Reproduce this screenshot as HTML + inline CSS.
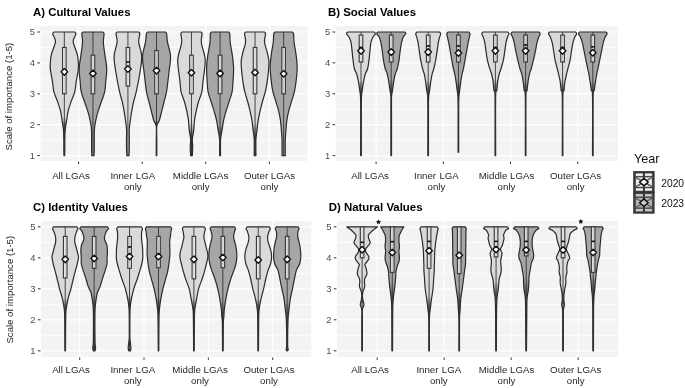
<!DOCTYPE html>
<html><head><meta charset="utf-8"><title>Violin plots</title>
<style>html,body{margin:0;padding:0;background:#fff;width:685px;height:388px;overflow:hidden;font-family:"Liberation Sans", sans-serif;}</style>
</head><body>
<svg width="685" height="388" viewBox="0 0 685 388" style="display:block;filter:blur(0.3px)">
<style>text{font-family:"Liberation Sans",sans-serif;}</style>
<rect width="685" height="388" fill="#ffffff"/>
<rect x="40.5" y="26.0" width="267.00" height="135.00" fill="#f3f3f3"/>
<line x1="40.5" x2="307.5" y1="140.15" y2="140.15" stroke="#ffffff" stroke-width="0.8"/>
<line x1="40.5" x2="307.5" y1="109.25" y2="109.25" stroke="#ffffff" stroke-width="0.8"/>
<line x1="40.5" x2="307.5" y1="78.35" y2="78.35" stroke="#ffffff" stroke-width="0.8"/>
<line x1="40.5" x2="307.5" y1="47.45" y2="47.45" stroke="#ffffff" stroke-width="0.8"/>
<line x1="40.5" x2="307.5" y1="155.60" y2="155.60" stroke="#ffffff" stroke-width="1.2"/>
<line x1="40.5" x2="307.5" y1="124.70" y2="124.70" stroke="#ffffff" stroke-width="1.2"/>
<line x1="40.5" x2="307.5" y1="93.80" y2="93.80" stroke="#ffffff" stroke-width="1.2"/>
<line x1="40.5" x2="307.5" y1="62.90" y2="62.90" stroke="#ffffff" stroke-width="1.2"/>
<line x1="40.5" x2="307.5" y1="32.00" y2="32.00" stroke="#ffffff" stroke-width="1.2"/>
<line x1="78.64" x2="78.64" y1="26.0" y2="161.0" stroke="#ffffff" stroke-width="1.1"/>
<line x1="142.21" x2="142.21" y1="26.0" y2="161.0" stroke="#ffffff" stroke-width="1.1"/>
<line x1="205.79" x2="205.79" y1="26.0" y2="161.0" stroke="#ffffff" stroke-width="1.1"/>
<line x1="269.36" x2="269.36" y1="26.0" y2="161.0" stroke="#ffffff" stroke-width="1.1"/>
<line x1="37.30" x2="39.90" y1="155.60" y2="155.60" stroke="#333" stroke-width="1"/>
<text x="34.90" y="159.00" text-anchor="end" font-size="9.4" fill="#4d4d4d">1</text>
<line x1="37.30" x2="39.90" y1="124.70" y2="124.70" stroke="#333" stroke-width="1"/>
<text x="34.90" y="128.10" text-anchor="end" font-size="9.4" fill="#4d4d4d">2</text>
<line x1="37.30" x2="39.90" y1="93.80" y2="93.80" stroke="#333" stroke-width="1"/>
<text x="34.90" y="97.20" text-anchor="end" font-size="9.4" fill="#4d4d4d">3</text>
<line x1="37.30" x2="39.90" y1="62.90" y2="62.90" stroke="#333" stroke-width="1"/>
<text x="34.90" y="66.30" text-anchor="end" font-size="9.4" fill="#4d4d4d">4</text>
<line x1="37.30" x2="39.90" y1="32.00" y2="32.00" stroke="#333" stroke-width="1"/>
<text x="34.90" y="35.40" text-anchor="end" font-size="9.4" fill="#4d4d4d">5</text>
<line x1="78.64" x2="78.64" y1="161.60" y2="164.00" stroke="#333" stroke-width="1"/>
<text x="71.00" y="178.80" text-anchor="middle" font-size="9.7" fill="#262626">All LGAs</text>
<line x1="142.21" x2="142.21" y1="161.60" y2="164.00" stroke="#333" stroke-width="1"/>
<text x="110.40" y="178.80" font-size="9.7" fill="#262626">Inner</text>
<text x="155.20" y="178.80" text-anchor="end" font-size="9.7" fill="#262626">LGA</text>
<text x="132.80" y="190.00" text-anchor="middle" font-size="9.7" fill="#262626">only</text>
<line x1="205.79" x2="205.79" y1="161.60" y2="164.00" stroke="#333" stroke-width="1"/>
<text x="200.60" y="178.80" text-anchor="middle" font-size="9.7" fill="#262626">Middle LGAs</text>
<text x="200.60" y="190.00" text-anchor="middle" font-size="9.7" fill="#262626">only</text>
<line x1="269.36" x2="269.36" y1="161.60" y2="164.00" stroke="#333" stroke-width="1"/>
<text x="269.50" y="178.80" text-anchor="middle" font-size="9.7" fill="#262626">Outer LGAs</text>
<text x="269.50" y="190.00" text-anchor="middle" font-size="9.7" fill="#262626">only</text>
<text x="33" y="16.3" font-size="11.4" font-weight="bold" fill="#000">A) Cultural Values</text>
<defs><linearGradient id="gA0" gradientUnits="userSpaceOnUse" x1="0" x2="0" y1="117.28" y2="155.60"><stop offset="0.0000" stop-color="#dadada"/><stop offset="0.2994" stop-color="#4a4a4a"/></linearGradient></defs>
<path d="M53.84,32.00 L74.84,32.00 C75.02,32.30 75.97,32.98 75.94,33.80 C75.91,34.62 75.09,35.54 74.64,36.94 C74.19,38.34 72.79,39.26 73.24,42.20 C73.69,45.13 76.49,51.11 77.34,54.56 C78.19,58.01 78.17,60.48 78.34,62.90 C78.51,65.32 78.69,65.99 78.34,69.08 C77.99,72.17 76.84,77.63 76.24,81.44 C75.64,85.25 75.59,88.60 74.74,91.95 C73.89,95.29 72.24,98.33 71.14,101.52 C70.04,104.72 68.89,107.96 68.14,111.10 C67.39,114.25 67.13,117.23 66.64,120.37 C66.15,123.52 65.50,126.66 65.20,129.95 C64.89,133.25 64.88,136.91 64.81,140.15 C64.75,143.39 64.84,146.84 64.81,149.42 C64.78,152.00 64.65,154.57 64.62,155.60 L64.06,155.60 C64.03,154.57 63.90,152.00 63.87,149.42 C63.84,146.84 63.93,143.39 63.87,140.15 C63.80,136.91 63.79,133.25 63.48,129.95 C63.18,126.66 62.53,123.52 62.04,120.37 C61.55,117.23 61.29,114.25 60.54,111.10 C59.79,107.96 58.64,104.72 57.54,101.52 C56.44,98.33 54.79,95.29 53.94,91.95 C53.09,88.60 53.04,85.25 52.44,81.44 C51.84,77.63 50.69,72.17 50.34,69.08 C49.99,65.99 50.17,65.32 50.34,62.90 C50.51,60.48 50.49,58.01 51.34,54.56 C52.19,51.11 54.99,45.13 55.44,42.20 C55.89,39.26 54.49,38.34 54.04,36.94 C53.59,35.54 52.77,34.62 52.74,33.80 C52.71,32.98 53.66,32.30 53.84,32.00 Z" fill="url(#gA0)" stroke="#2b2b2b" stroke-width="1.2" stroke-linejoin="round"/>
<line x1="64.34" x2="64.34" y1="32.00" y2="155.60" stroke="#333" stroke-width="0.9"/>
<rect x="62.54" y="47.45" width="3.6" height="46.35" fill="#ffffff" fill-opacity="0.7" stroke="#3a3a3a" stroke-width="1.15"/>
<path d="M61.04,71.86 L64.34,68.56 L67.64,71.86 L64.34,75.16 Z" fill="#ffffff" stroke="#111" stroke-width="1.4" stroke-linejoin="round"/>
<path d="M82.95,32.00 L102.95,32.00 C103.13,32.30 103.98,32.10 104.05,33.80 C104.11,35.50 103.21,38.74 103.35,42.20 C103.48,45.66 104.28,50.13 104.85,54.56 C105.41,58.99 106.60,64.29 106.75,68.77 C106.90,73.25 106.10,77.58 105.75,81.44 C105.40,85.30 105.36,88.60 104.65,91.95 C103.93,95.29 102.53,98.33 101.45,101.52 C100.36,104.72 99.10,107.96 98.15,111.10 C97.20,114.25 96.37,117.23 95.75,120.37 C95.12,123.52 94.62,126.66 94.38,129.95 C94.13,133.25 94.30,136.91 94.28,140.15 C94.27,143.39 94.33,146.84 94.28,149.42 C94.23,152.00 94.04,154.57 93.99,155.60 L91.90,155.60 C91.85,154.57 91.66,152.00 91.61,149.42 C91.56,146.84 91.63,143.39 91.61,140.15 C91.59,136.91 91.76,133.25 91.51,129.95 C91.27,126.66 90.77,123.52 90.15,120.37 C89.52,117.23 88.70,114.25 87.75,111.10 C86.80,107.96 85.53,104.72 84.45,101.52 C83.36,98.33 81.96,95.29 81.25,91.95 C80.53,88.60 80.50,85.30 80.15,81.44 C79.80,77.58 79.00,73.25 79.15,68.77 C79.30,64.29 80.48,58.99 81.05,54.56 C81.61,50.13 82.41,45.66 82.55,42.20 C82.68,38.74 81.78,35.50 81.85,33.80 C81.91,32.10 82.76,32.30 82.95,32.00 Z" fill="#a6a6a6" stroke="#2b2b2b" stroke-width="1.2" stroke-linejoin="round"/>
<line x1="92.95" x2="92.95" y1="32.00" y2="155.60" stroke="#333" stroke-width="0.9"/>
<rect x="91.15" y="55.17" width="3.6" height="38.62" fill="#ffffff" fill-opacity="0.7" stroke="#3a3a3a" stroke-width="1.15"/>
<path d="M89.65,73.41 L92.95,70.11 L96.25,73.41 L92.95,76.71 Z" fill="#ffffff" stroke="#111" stroke-width="1.4" stroke-linejoin="round"/>
<path d="M117.11,32.00 L138.71,32.00 C138.89,32.30 139.81,32.10 139.81,33.80 C139.81,35.50 138.39,38.43 138.71,42.20 C139.03,45.97 141.51,51.36 141.71,56.41 C141.91,61.46 140.83,66.56 139.91,72.48 C138.99,78.40 137.26,87.11 136.21,91.95 C135.16,96.79 134.36,98.33 133.61,101.52 C132.86,104.72 132.26,107.96 131.71,111.10 C131.16,114.25 130.72,117.23 130.31,120.37 C129.90,123.52 129.41,126.66 129.25,129.95 C129.09,133.25 129.34,136.91 129.34,140.15 C129.34,143.39 129.31,146.84 129.25,149.42 C129.18,152.00 129.01,154.57 128.96,155.60 L126.86,155.60 C126.81,154.57 126.64,152.00 126.57,149.42 C126.51,146.84 126.48,143.39 126.48,140.15 C126.48,136.91 126.74,133.25 126.57,129.95 C126.41,126.66 125.92,123.52 125.51,120.37 C125.10,117.23 124.66,114.25 124.11,111.10 C123.56,107.96 122.96,104.72 122.21,101.52 C121.46,98.33 120.66,96.79 119.61,91.95 C118.56,87.11 116.83,78.40 115.91,72.48 C114.99,66.56 113.91,61.46 114.11,56.41 C114.31,51.36 116.79,45.97 117.11,42.20 C117.43,38.43 116.01,35.50 116.01,33.80 C116.01,32.10 116.93,32.30 117.11,32.00 Z" fill="#dadada" stroke="#2b2b2b" stroke-width="1.2" stroke-linejoin="round"/>
<line x1="127.91" x2="127.91" y1="32.00" y2="155.60" stroke="#333" stroke-width="0.9"/>
<rect x="126.11" y="47.45" width="3.6" height="38.62" fill="#ffffff" fill-opacity="0.7" stroke="#3a3a3a" stroke-width="1.15"/>
<line x1="126.11" x2="129.71" y1="61.97" y2="61.97" stroke="#111" stroke-width="1.6"/>
<path d="M124.61,69.08 L127.91,65.78 L131.21,69.08 L127.91,72.38 Z" fill="#ffffff" stroke="#111" stroke-width="1.4" stroke-linejoin="round"/>
<defs><linearGradient id="gA3" gradientUnits="userSpaceOnUse" x1="0" x2="0" y1="120.37" y2="155.60"><stop offset="0.0000" stop-color="#a6a6a6"/><stop offset="0.1111" stop-color="#4a4a4a"/></linearGradient></defs>
<path d="M147.52,32.00 L165.52,32.00 C165.70,32.30 166.28,32.10 166.62,33.80 C166.95,35.50 166.87,38.43 167.52,42.20 C168.17,45.97 170.28,51.36 170.52,56.41 C170.75,61.46 169.58,66.56 168.92,72.48 C168.25,78.40 167.32,87.11 166.52,91.95 C165.72,96.79 164.92,98.33 164.12,101.52 C163.32,104.72 162.52,107.96 161.72,111.10 C160.92,114.25 160.14,117.85 159.32,120.37 C158.50,122.90 157.22,122.95 156.80,126.24 C156.38,129.54 156.80,135.26 156.80,140.15 C156.80,145.04 156.80,153.02 156.80,155.60 L156.24,155.60 C156.24,153.02 156.24,145.04 156.24,140.15 C156.24,135.26 156.66,129.54 156.24,126.24 C155.82,122.95 154.54,122.90 153.72,120.37 C152.90,117.85 152.12,114.25 151.32,111.10 C150.52,107.96 149.72,104.72 148.92,101.52 C148.12,98.33 147.32,96.79 146.52,91.95 C145.72,87.11 144.78,78.40 144.12,72.48 C143.45,66.56 142.28,61.46 142.52,56.41 C142.75,51.36 144.87,45.97 145.52,42.20 C146.17,38.43 146.08,35.50 146.42,33.80 C146.75,32.10 147.33,32.30 147.52,32.00 Z" fill="url(#gA3)" stroke="#2b2b2b" stroke-width="1.2" stroke-linejoin="round"/>
<line x1="156.52" x2="156.52" y1="32.00" y2="155.60" stroke="#333" stroke-width="0.9"/>
<rect x="154.72" y="50.54" width="3.6" height="43.26" fill="#ffffff" fill-opacity="0.7" stroke="#3a3a3a" stroke-width="1.15"/>
<path d="M153.22,70.62 L156.52,67.33 L159.82,70.62 L156.52,73.92 Z" fill="#ffffff" stroke="#111" stroke-width="1.4" stroke-linejoin="round"/>
<defs><linearGradient id="gA4" gradientUnits="userSpaceOnUse" x1="0" x2="0" y1="123.11" y2="155.60"><stop offset="0.0000" stop-color="#dadada"/><stop offset="0.4686" stop-color="#4a4a4a"/></linearGradient></defs>
<path d="M181.98,32.00 L200.98,32.00 C201.17,32.30 202.03,32.10 202.08,33.80 C202.13,35.50 200.83,38.43 201.28,42.20 C201.73,45.97 204.13,52.86 204.78,56.41 C205.43,59.96 205.48,59.35 205.18,63.52 C204.88,67.69 203.53,76.70 202.98,81.44 C202.43,86.18 202.62,88.60 201.88,91.95 C201.15,95.29 199.53,98.33 198.58,101.52 C197.63,104.72 196.87,107.96 196.18,111.10 C195.50,114.25 194.88,117.23 194.48,120.37 C194.08,123.52 194.14,126.76 193.78,129.95 C193.42,133.15 192.51,136.80 192.34,139.53 C192.16,142.26 192.72,143.65 192.72,146.33 C192.72,149.01 192.40,154.06 192.34,155.60 L190.63,155.60 C190.56,154.06 190.24,149.01 190.24,146.33 C190.24,143.65 190.80,142.26 190.63,139.53 C190.45,136.80 189.54,133.15 189.18,129.95 C188.82,126.76 188.88,123.52 188.48,120.37 C188.08,117.23 187.47,114.25 186.78,111.10 C186.10,107.96 185.33,104.72 184.38,101.52 C183.43,98.33 181.82,95.29 181.08,91.95 C180.35,88.60 180.53,86.18 179.98,81.44 C179.43,76.70 178.08,67.69 177.78,63.52 C177.48,59.35 177.53,59.96 178.18,56.41 C178.83,52.86 181.23,45.97 181.68,42.20 C182.13,38.43 180.83,35.50 180.88,33.80 C180.93,32.10 181.80,32.30 181.98,32.00 Z" fill="url(#gA4)" stroke="#2b2b2b" stroke-width="1.2" stroke-linejoin="round"/>
<line x1="191.48" x2="191.48" y1="32.00" y2="155.60" stroke="#333" stroke-width="0.9"/>
<rect x="189.68" y="55.17" width="3.6" height="38.62" fill="#ffffff" fill-opacity="0.7" stroke="#3a3a3a" stroke-width="1.15"/>
<path d="M188.18,72.79 L191.48,69.49 L194.78,72.79 L191.48,76.09 Z" fill="#ffffff" stroke="#111" stroke-width="1.4" stroke-linejoin="round"/>
<defs><linearGradient id="gA5" gradientUnits="userSpaceOnUse" x1="0" x2="0" y1="125.16" y2="155.60"><stop offset="0.0000" stop-color="#a6a6a6"/><stop offset="0.3541" stop-color="#4a4a4a"/></linearGradient></defs>
<path d="M211.49,32.00 L228.69,32.00 C228.87,32.30 229.54,32.10 229.79,33.80 C230.04,35.50 229.74,38.43 230.19,42.20 C230.64,45.97 231.92,51.98 232.49,56.41 C233.06,60.84 233.51,64.60 233.59,68.77 C233.67,72.94 233.24,77.58 232.99,81.44 C232.74,85.30 232.74,88.60 232.09,91.95 C231.44,95.29 230.09,98.33 229.09,101.52 C228.09,104.72 227.01,107.96 226.09,111.10 C225.17,114.25 224.25,117.23 223.59,120.37 C222.92,123.52 222.60,126.76 222.10,129.95 C221.59,133.15 220.82,135.26 220.56,139.53 C220.31,143.81 220.56,152.92 220.56,155.60 L219.62,155.60 C219.62,152.92 219.87,143.81 219.62,139.53 C219.36,135.26 218.59,133.15 218.08,129.95 C217.58,126.76 217.25,123.52 216.59,120.37 C215.92,117.23 215.01,114.25 214.09,111.10 C213.17,107.96 212.09,104.72 211.09,101.52 C210.09,98.33 208.74,95.29 208.09,91.95 C207.44,88.60 207.44,85.30 207.19,81.44 C206.94,77.58 206.51,72.94 206.59,68.77 C206.67,64.60 207.12,60.84 207.69,56.41 C208.26,51.98 209.54,45.97 209.99,42.20 C210.44,38.43 210.14,35.50 210.39,33.80 C210.64,32.10 211.31,32.30 211.49,32.00 Z" fill="url(#gA5)" stroke="#2b2b2b" stroke-width="1.2" stroke-linejoin="round"/>
<line x1="220.09" x2="220.09" y1="32.00" y2="155.60" stroke="#333" stroke-width="0.9"/>
<rect x="218.29" y="55.17" width="3.6" height="38.62" fill="#ffffff" fill-opacity="0.7" stroke="#3a3a3a" stroke-width="1.15"/>
<path d="M216.79,73.41 L220.09,70.11 L223.39,73.41 L220.09,76.71 Z" fill="#ffffff" stroke="#111" stroke-width="1.4" stroke-linejoin="round"/>
<defs><linearGradient id="gA6" gradientUnits="userSpaceOnUse" x1="0" x2="0" y1="123.25" y2="155.60"><stop offset="0.0000" stop-color="#dadada"/><stop offset="0.4540" stop-color="#4a4a4a"/></linearGradient></defs>
<path d="M245.65,32.00 L264.45,32.00 C264.64,32.30 265.54,32.10 265.55,33.80 C265.57,35.50 264.19,38.74 264.55,42.20 C264.92,45.66 267.02,51.00 267.75,54.56 C268.49,58.11 269.04,59.04 268.95,63.52 C268.87,68.00 267.87,76.70 267.25,81.44 C266.64,86.18 266.05,88.60 265.25,91.95 C264.45,95.29 263.32,98.33 262.45,101.52 C261.59,104.72 260.77,107.96 260.05,111.10 C259.34,114.25 258.65,117.23 258.15,120.37 C257.65,123.52 257.44,126.76 257.06,129.95 C256.69,133.15 256.10,135.26 255.91,139.53 C255.72,143.81 255.91,152.92 255.91,155.60 L254.20,155.60 C254.20,152.92 254.39,143.81 254.20,139.53 C254.01,135.26 253.42,133.15 253.05,129.95 C252.67,126.76 252.45,123.52 251.95,120.37 C251.45,117.23 250.77,114.25 250.05,111.10 C249.34,107.96 248.52,104.72 247.65,101.52 C246.79,98.33 245.65,95.29 244.85,91.95 C244.05,88.60 243.47,86.18 242.85,81.44 C242.24,76.70 241.24,68.00 241.15,63.52 C241.07,59.04 241.62,58.11 242.35,54.56 C243.09,51.00 245.19,45.66 245.55,42.20 C245.92,38.74 244.54,35.50 244.55,33.80 C244.57,32.10 245.47,32.30 245.65,32.00 Z" fill="url(#gA6)" stroke="#2b2b2b" stroke-width="1.2" stroke-linejoin="round"/>
<line x1="255.05" x2="255.05" y1="32.00" y2="155.60" stroke="#333" stroke-width="0.9"/>
<rect x="253.25" y="47.45" width="3.6" height="46.35" fill="#ffffff" fill-opacity="0.7" stroke="#3a3a3a" stroke-width="1.15"/>
<path d="M251.75,72.48 L255.05,69.18 L258.35,72.48 L255.05,75.78 Z" fill="#ffffff" stroke="#111" stroke-width="1.4" stroke-linejoin="round"/>
<path d="M274.86,32.00 L292.46,32.00 C292.64,32.30 293.29,32.10 293.56,33.80 C293.83,35.50 293.64,38.74 294.06,42.20 C294.48,45.66 295.54,50.33 296.06,54.56 C296.58,58.78 297.16,63.05 297.16,67.53 C297.16,72.02 296.53,77.37 296.06,81.44 C295.59,85.51 295.13,88.60 294.36,91.95 C293.59,95.29 292.41,98.33 291.46,101.52 C290.51,104.72 289.43,107.96 288.66,111.10 C287.89,114.25 287.31,117.23 286.86,120.37 C286.41,123.52 286.22,126.76 285.96,129.95 C285.70,133.15 285.40,135.26 285.28,139.53 C285.17,143.81 285.28,152.92 285.28,155.60 L282.04,155.60 C282.04,152.92 282.15,143.81 282.04,139.53 C281.92,135.26 281.62,133.15 281.36,129.95 C281.10,126.76 280.91,123.52 280.46,120.37 C280.01,117.23 279.43,114.25 278.66,111.10 C277.89,107.96 276.81,104.72 275.86,101.52 C274.91,98.33 273.73,95.29 272.96,91.95 C272.19,88.60 271.73,85.51 271.26,81.44 C270.79,77.37 270.16,72.02 270.16,67.53 C270.16,63.05 270.74,58.78 271.26,54.56 C271.78,50.33 272.84,45.66 273.26,42.20 C273.68,38.74 273.49,35.50 273.76,33.80 C274.03,32.10 274.68,32.30 274.86,32.00 Z" fill="#a6a6a6" stroke="#2b2b2b" stroke-width="1.2" stroke-linejoin="round"/>
<line x1="283.66" x2="283.66" y1="32.00" y2="155.60" stroke="#333" stroke-width="0.9"/>
<rect x="281.86" y="47.45" width="3.6" height="46.35" fill="#ffffff" fill-opacity="0.7" stroke="#3a3a3a" stroke-width="1.15"/>
<path d="M280.36,73.72 L283.66,70.42 L286.96,73.72 L283.66,77.02 Z" fill="#ffffff" stroke="#111" stroke-width="1.4" stroke-linejoin="round"/>
<rect x="335.8" y="26.0" width="282.20" height="135.00" fill="#f3f3f3"/>
<line x1="335.8" x2="618.0" y1="140.15" y2="140.15" stroke="#ffffff" stroke-width="0.8"/>
<line x1="335.8" x2="618.0" y1="109.25" y2="109.25" stroke="#ffffff" stroke-width="0.8"/>
<line x1="335.8" x2="618.0" y1="78.35" y2="78.35" stroke="#ffffff" stroke-width="0.8"/>
<line x1="335.8" x2="618.0" y1="47.45" y2="47.45" stroke="#ffffff" stroke-width="0.8"/>
<line x1="335.8" x2="618.0" y1="155.60" y2="155.60" stroke="#ffffff" stroke-width="1.2"/>
<line x1="335.8" x2="618.0" y1="124.70" y2="124.70" stroke="#ffffff" stroke-width="1.2"/>
<line x1="335.8" x2="618.0" y1="93.80" y2="93.80" stroke="#ffffff" stroke-width="1.2"/>
<line x1="335.8" x2="618.0" y1="62.90" y2="62.90" stroke="#ffffff" stroke-width="1.2"/>
<line x1="335.8" x2="618.0" y1="32.00" y2="32.00" stroke="#ffffff" stroke-width="1.2"/>
<line x1="376.11" x2="376.11" y1="26.0" y2="161.0" stroke="#ffffff" stroke-width="1.1"/>
<line x1="443.30" x2="443.30" y1="26.0" y2="161.0" stroke="#ffffff" stroke-width="1.1"/>
<line x1="510.50" x2="510.50" y1="26.0" y2="161.0" stroke="#ffffff" stroke-width="1.1"/>
<line x1="577.69" x2="577.69" y1="26.0" y2="161.0" stroke="#ffffff" stroke-width="1.1"/>
<line x1="332.60" x2="335.20" y1="155.60" y2="155.60" stroke="#333" stroke-width="1"/>
<text x="330.20" y="159.00" text-anchor="end" font-size="9.4" fill="#4d4d4d">1</text>
<line x1="332.60" x2="335.20" y1="124.70" y2="124.70" stroke="#333" stroke-width="1"/>
<text x="330.20" y="128.10" text-anchor="end" font-size="9.4" fill="#4d4d4d">2</text>
<line x1="332.60" x2="335.20" y1="93.80" y2="93.80" stroke="#333" stroke-width="1"/>
<text x="330.20" y="97.20" text-anchor="end" font-size="9.4" fill="#4d4d4d">3</text>
<line x1="332.60" x2="335.20" y1="62.90" y2="62.90" stroke="#333" stroke-width="1"/>
<text x="330.20" y="66.30" text-anchor="end" font-size="9.4" fill="#4d4d4d">4</text>
<line x1="332.60" x2="335.20" y1="32.00" y2="32.00" stroke="#333" stroke-width="1"/>
<text x="330.20" y="35.40" text-anchor="end" font-size="9.4" fill="#4d4d4d">5</text>
<line x1="376.11" x2="376.11" y1="161.60" y2="164.00" stroke="#333" stroke-width="1"/>
<text x="370.10" y="178.80" text-anchor="middle" font-size="9.7" fill="#262626">All LGAs</text>
<line x1="443.30" x2="443.30" y1="161.60" y2="164.00" stroke="#333" stroke-width="1"/>
<text x="414.00" y="178.80" font-size="9.7" fill="#262626">Inner</text>
<text x="458.80" y="178.80" text-anchor="end" font-size="9.7" fill="#262626">LGA</text>
<text x="436.40" y="190.00" text-anchor="middle" font-size="9.7" fill="#262626">only</text>
<line x1="510.50" x2="510.50" y1="161.60" y2="164.00" stroke="#333" stroke-width="1"/>
<text x="506.50" y="178.80" text-anchor="middle" font-size="9.7" fill="#262626">Middle LGAs</text>
<text x="506.50" y="190.00" text-anchor="middle" font-size="9.7" fill="#262626">only</text>
<line x1="577.69" x2="577.69" y1="161.60" y2="164.00" stroke="#333" stroke-width="1"/>
<text x="575.60" y="178.80" text-anchor="middle" font-size="9.7" fill="#262626">Outer LGAs</text>
<text x="575.60" y="190.00" text-anchor="middle" font-size="9.7" fill="#262626">only</text>
<text x="328" y="16.3" font-size="11.4" font-weight="bold" fill="#000">B) Social Values</text>
<defs><linearGradient id="gB0" gradientUnits="userSpaceOnUse" x1="0" x2="0" y1="80.57" y2="155.60"><stop offset="0.0000" stop-color="#dadada"/><stop offset="0.1527" stop-color="#4a4a4a"/></linearGradient></defs>
<path d="M347.70,32.00 L374.30,32.00 C374.48,32.30 375.61,32.98 375.40,33.80 C375.18,34.62 373.73,35.54 373.00,36.94 C372.26,38.34 371.51,39.83 371.00,42.20 C370.48,44.57 370.23,48.17 369.90,51.16 C369.56,54.15 369.38,57.18 369.00,60.12 C368.61,63.05 368.21,66.45 367.60,68.77 C366.98,71.09 365.96,71.91 365.30,74.02 C364.63,76.14 364.11,78.71 363.60,81.44 C363.09,84.17 362.59,87.83 362.24,90.40 C361.88,92.98 361.63,93.75 361.47,96.89 C361.31,100.03 361.31,99.47 361.28,109.25 C361.24,119.03 361.28,147.88 361.28,155.60 L360.72,155.60 C360.72,147.88 360.75,119.03 360.72,109.25 C360.68,99.47 360.68,100.03 360.52,96.89 C360.36,93.75 360.11,92.98 359.76,90.40 C359.40,87.83 358.91,84.17 358.40,81.44 C357.89,78.71 357.36,76.14 356.70,74.02 C356.03,71.91 355.01,71.09 354.40,68.77 C353.78,66.45 353.38,63.05 353.00,60.12 C352.61,57.18 352.43,54.15 352.10,51.16 C351.76,48.17 351.51,44.57 351.00,42.20 C350.48,39.83 349.73,38.34 349.00,36.94 C348.26,35.54 346.81,34.62 346.60,33.80 C346.38,32.98 347.51,32.30 347.70,32.00 Z" fill="url(#gB0)" stroke="#2b2b2b" stroke-width="1.2" stroke-linejoin="round"/>
<line x1="361.00" x2="361.00" y1="32.00" y2="155.60" stroke="#333" stroke-width="0.9"/>
<rect x="359.20" y="35.09" width="3.6" height="26.88" fill="#ffffff" fill-opacity="0.7" stroke="#3a3a3a" stroke-width="1.15"/>
<line x1="359.20" x2="362.80" y1="47.45" y2="47.45" stroke="#111" stroke-width="1.6"/>
<path d="M357.70,50.85 L361.00,47.55 L364.30,50.85 L361.00,54.15 Z" fill="#ffffff" stroke="#111" stroke-width="1.4" stroke-linejoin="round"/>
<defs><linearGradient id="gB1" gradientUnits="userSpaceOnUse" x1="0" x2="0" y1="79.96" y2="155.60"><stop offset="0.0000" stop-color="#a6a6a6"/><stop offset="0.1552" stop-color="#4a4a4a"/></linearGradient></defs>
<path d="M377.83,32.00 L404.63,32.00 C404.82,32.30 405.97,32.98 405.73,33.80 C405.50,34.62 403.92,35.54 403.23,36.94 C402.55,38.34 402.15,39.83 401.63,42.20 C401.12,44.57 400.57,48.17 400.13,51.16 C399.70,54.15 399.52,57.18 399.03,60.12 C398.55,63.05 397.87,66.45 397.23,68.77 C396.60,71.09 395.82,71.91 395.23,74.02 C394.65,76.14 394.19,78.71 393.73,81.44 C393.27,84.17 392.84,87.83 392.47,90.40 C392.10,92.98 391.67,93.75 391.51,96.89 C391.35,100.03 391.51,99.47 391.51,109.25 C391.51,119.03 391.51,147.88 391.51,155.60 L390.95,155.60 C390.95,147.88 390.95,119.03 390.95,109.25 C390.95,99.47 391.11,100.03 390.95,96.89 C390.79,93.75 390.36,92.98 389.99,90.40 C389.62,87.83 389.19,84.17 388.73,81.44 C388.27,78.71 387.82,76.14 387.23,74.02 C386.65,71.91 385.87,71.09 385.23,68.77 C384.60,66.45 383.92,63.05 383.43,60.12 C382.95,57.18 382.77,54.15 382.33,51.16 C381.90,48.17 381.35,44.57 380.83,42.20 C380.32,39.83 379.92,38.34 379.23,36.94 C378.55,35.54 376.97,34.62 376.73,33.80 C376.50,32.98 377.65,32.30 377.83,32.00 Z" fill="url(#gB1)" stroke="#2b2b2b" stroke-width="1.2" stroke-linejoin="round"/>
<line x1="391.23" x2="391.23" y1="32.00" y2="155.60" stroke="#333" stroke-width="0.9"/>
<rect x="389.43" y="35.09" width="3.6" height="26.88" fill="#ffffff" fill-opacity="0.7" stroke="#3a3a3a" stroke-width="1.15"/>
<path d="M387.93,52.09 L391.23,48.79 L394.53,52.09 L391.23,55.39 Z" fill="#ffffff" stroke="#111" stroke-width="1.4" stroke-linejoin="round"/>
<defs><linearGradient id="gB2" gradientUnits="userSpaceOnUse" x1="0" x2="0" y1="80.30" y2="155.60"><stop offset="0.0000" stop-color="#dadada"/><stop offset="0.1686" stop-color="#4a4a4a"/></linearGradient></defs>
<path d="M416.79,32.00 L439.59,32.00 C439.77,32.30 440.67,32.98 440.69,33.80 C440.70,34.62 440.07,35.54 439.69,36.94 C439.30,38.34 438.82,39.83 438.39,42.20 C437.95,44.57 437.54,48.17 437.09,51.16 C436.64,54.15 436.24,57.18 435.69,60.12 C435.14,63.05 434.39,66.45 433.79,68.77 C433.19,71.09 432.59,71.91 432.09,74.02 C431.59,76.14 431.20,78.71 430.79,81.44 C430.38,84.17 429.97,87.83 429.62,90.40 C429.26,92.98 428.85,93.75 428.66,96.89 C428.47,100.03 428.50,99.47 428.47,109.25 C428.43,119.03 428.47,147.88 428.47,155.60 L427.91,155.60 C427.91,147.88 427.94,119.03 427.91,109.25 C427.87,99.47 427.91,100.03 427.71,96.89 C427.52,93.75 427.11,92.98 426.75,90.40 C426.40,87.83 426.00,84.17 425.59,81.44 C425.18,78.71 424.79,76.14 424.29,74.02 C423.79,71.91 423.19,71.09 422.59,68.77 C421.99,66.45 421.24,63.05 420.69,60.12 C420.14,57.18 419.74,54.15 419.29,51.16 C418.84,48.17 418.42,44.57 417.99,42.20 C417.55,39.83 417.07,38.34 416.69,36.94 C416.30,35.54 415.67,34.62 415.69,33.80 C415.70,32.98 416.60,32.30 416.79,32.00 Z" fill="url(#gB2)" stroke="#2b2b2b" stroke-width="1.2" stroke-linejoin="round"/>
<line x1="428.19" x2="428.19" y1="32.00" y2="155.60" stroke="#333" stroke-width="0.9"/>
<rect x="426.39" y="35.09" width="3.6" height="26.88" fill="#ffffff" fill-opacity="0.7" stroke="#3a3a3a" stroke-width="1.15"/>
<line x1="426.39" x2="429.99" y1="45.91" y2="45.91" stroke="#111" stroke-width="1.6"/>
<path d="M424.89,52.09 L428.19,48.79 L431.49,52.09 L428.19,55.39 Z" fill="#ffffff" stroke="#111" stroke-width="1.4" stroke-linejoin="round"/>
<defs><linearGradient id="gB3" gradientUnits="userSpaceOnUse" x1="0" x2="0" y1="78.97" y2="155.60"><stop offset="0.0000" stop-color="#a6a6a6"/><stop offset="0.1704" stop-color="#4a4a4a"/></linearGradient></defs>
<path d="M447.92,32.00 L468.92,32.00 C469.11,32.30 469.94,32.98 470.02,33.80 C470.11,34.62 469.72,35.54 469.42,36.94 C469.12,38.34 468.69,39.83 468.22,42.20 C467.76,44.57 467.16,48.17 466.62,51.16 C466.09,54.15 465.56,57.18 465.02,60.12 C464.49,63.05 463.92,66.45 463.42,68.77 C462.92,71.09 462.46,71.91 462.02,74.02 C461.59,76.14 461.22,78.71 460.82,81.44 C460.43,84.17 459.98,87.83 459.66,90.40 C459.34,92.98 459.05,93.75 458.89,96.89 C458.73,100.03 458.73,100.03 458.70,109.25 C458.67,118.47 458.70,145.04 458.70,152.20 L458.14,152.20 C458.14,145.04 458.17,118.47 458.14,109.25 C458.11,100.03 458.11,100.03 457.95,96.89 C457.79,93.75 457.50,92.98 457.18,90.40 C456.86,87.83 456.42,84.17 456.02,81.44 C455.63,78.71 455.26,76.14 454.82,74.02 C454.39,71.91 453.92,71.09 453.42,68.77 C452.92,66.45 452.36,63.05 451.82,60.12 C451.29,57.18 450.76,54.15 450.22,51.16 C449.69,48.17 449.09,44.57 448.62,42.20 C448.16,39.83 447.72,38.34 447.42,36.94 C447.12,35.54 446.74,34.62 446.82,33.80 C446.91,32.98 447.74,32.30 447.92,32.00 Z" fill="url(#gB3)" stroke="#2b2b2b" stroke-width="1.2" stroke-linejoin="round"/>
<line x1="458.42" x2="458.42" y1="32.00" y2="152.20" stroke="#333" stroke-width="0.9"/>
<rect x="456.62" y="35.09" width="3.6" height="26.88" fill="#ffffff" fill-opacity="0.7" stroke="#3a3a3a" stroke-width="1.15"/>
<line x1="456.62" x2="460.22" y1="45.91" y2="45.91" stroke="#111" stroke-width="1.6"/>
<path d="M455.12,53.01 L458.42,49.71 L461.72,53.01 L458.42,56.31 Z" fill="#ffffff" stroke="#111" stroke-width="1.4" stroke-linejoin="round"/>
<defs><linearGradient id="gB4" gradientUnits="userSpaceOnUse" x1="0" x2="0" y1="78.97" y2="155.60"><stop offset="0.0000" stop-color="#dadada"/><stop offset="0.1774" stop-color="#4a4a4a"/></linearGradient></defs>
<path d="M482.88,32.00 L507.88,32.00 C508.06,32.30 509.03,32.98 508.98,33.80 C508.93,34.62 508.06,35.54 507.58,36.94 C507.09,38.34 506.54,39.83 506.08,42.20 C505.61,44.57 505.23,48.17 504.78,51.16 C504.33,54.15 504.01,57.18 503.38,60.12 C502.74,63.05 501.68,66.45 500.98,68.77 C500.28,71.09 499.73,71.91 499.18,74.02 C498.63,76.14 498.07,78.71 497.68,81.44 C497.28,84.17 497.15,87.83 496.81,90.40 C496.47,92.98 495.85,86.02 495.66,96.89 C495.47,107.76 495.66,145.81 495.66,155.60 L495.10,155.60 C495.10,145.81 495.29,107.76 495.10,96.89 C494.91,86.02 494.28,92.98 493.95,90.40 C493.61,87.83 493.47,84.17 493.08,81.44 C492.68,78.71 492.13,76.14 491.58,74.02 C491.03,71.91 490.48,71.09 489.78,68.77 C489.08,66.45 488.01,63.05 487.38,60.12 C486.74,57.18 486.43,54.15 485.98,51.16 C485.53,48.17 485.14,44.57 484.68,42.20 C484.21,39.83 483.66,38.34 483.18,36.94 C482.69,35.54 481.83,34.62 481.78,33.80 C481.73,32.98 482.69,32.30 482.88,32.00 Z" fill="url(#gB4)" stroke="#2b2b2b" stroke-width="1.2" stroke-linejoin="round"/>
<line x1="495.38" x2="495.38" y1="32.00" y2="155.60" stroke="#333" stroke-width="0.9"/>
<rect x="493.58" y="35.09" width="3.6" height="26.88" fill="#ffffff" fill-opacity="0.7" stroke="#3a3a3a" stroke-width="1.15"/>
<line x1="493.58" x2="497.18" y1="47.45" y2="47.45" stroke="#111" stroke-width="1.6"/>
<path d="M492.08,50.85 L495.38,47.55 L498.68,50.85 L495.38,54.15 Z" fill="#ffffff" stroke="#111" stroke-width="1.4" stroke-linejoin="round"/>
<defs><linearGradient id="gB5" gradientUnits="userSpaceOnUse" x1="0" x2="0" y1="79.73" y2="155.60"><stop offset="0.0000" stop-color="#a6a6a6"/><stop offset="0.1692" stop-color="#4a4a4a"/></linearGradient></defs>
<path d="M512.11,32.00 L539.11,32.00 C539.30,32.30 540.28,32.98 540.21,33.80 C540.15,34.62 539.23,35.54 538.71,36.94 C538.20,38.34 537.66,39.83 537.11,42.20 C536.56,44.57 536.03,48.17 535.41,51.16 C534.80,54.15 534.11,57.18 533.41,60.12 C532.71,63.05 531.88,66.45 531.21,68.77 C530.55,71.09 529.93,71.91 529.41,74.02 C528.90,76.14 528.51,78.71 528.11,81.44 C527.72,84.17 527.42,87.83 527.05,90.40 C526.68,92.98 526.09,86.02 525.89,96.89 C525.70,107.76 525.89,145.81 525.89,155.60 L525.33,155.60 C525.33,145.81 525.53,107.76 525.33,96.89 C525.14,86.02 524.55,92.98 524.18,90.40 C523.81,87.83 523.51,84.17 523.11,81.44 C522.72,78.71 522.33,76.14 521.81,74.02 C521.30,71.91 520.68,71.09 520.01,68.77 C519.35,66.45 518.51,63.05 517.81,60.12 C517.11,57.18 516.43,54.15 515.81,51.16 C515.20,48.17 514.66,44.57 514.11,42.20 C513.56,39.83 513.03,38.34 512.51,36.94 C512.00,35.54 511.08,34.62 511.01,33.80 C510.95,32.98 511.93,32.30 512.11,32.00 Z" fill="url(#gB5)" stroke="#2b2b2b" stroke-width="1.2" stroke-linejoin="round"/>
<line x1="525.61" x2="525.61" y1="32.00" y2="155.60" stroke="#333" stroke-width="0.9"/>
<rect x="523.81" y="35.09" width="3.6" height="26.88" fill="#ffffff" fill-opacity="0.7" stroke="#3a3a3a" stroke-width="1.15"/>
<line x1="523.81" x2="527.41" y1="44.98" y2="44.98" stroke="#111" stroke-width="1.6"/>
<path d="M522.31,50.85 L525.61,47.55 L528.91,50.85 L525.61,54.15 Z" fill="#ffffff" stroke="#111" stroke-width="1.4" stroke-linejoin="round"/>
<defs><linearGradient id="gB6" gradientUnits="userSpaceOnUse" x1="0" x2="0" y1="79.59" y2="155.60"><stop offset="0.0000" stop-color="#dadada"/><stop offset="0.1707" stop-color="#4a4a4a"/></linearGradient></defs>
<path d="M549.57,32.00 L575.57,32.00 C575.75,32.30 576.80,32.98 576.67,33.80 C576.53,34.62 575.37,35.54 574.77,36.94 C574.17,38.34 573.62,39.83 573.07,42.20 C572.52,44.57 571.97,48.17 571.47,51.16 C570.97,54.15 570.67,57.18 570.07,60.12 C569.47,63.05 568.45,66.45 567.87,68.77 C567.28,71.09 567.05,71.91 566.57,74.02 C566.08,76.14 565.40,78.71 564.97,81.44 C564.54,84.17 564.35,87.83 564.00,90.40 C563.65,92.98 563.04,86.02 562.85,96.89 C562.66,107.76 562.85,145.81 562.85,155.60 L562.29,155.60 C562.29,145.81 562.48,107.76 562.29,96.89 C562.10,86.02 561.49,92.98 561.14,90.40 C560.78,87.83 560.60,84.17 560.17,81.44 C559.74,78.71 559.05,76.14 558.57,74.02 C558.08,71.91 557.85,71.09 557.27,68.77 C556.68,66.45 555.67,63.05 555.07,60.12 C554.47,57.18 554.17,54.15 553.67,51.16 C553.17,48.17 552.62,44.57 552.07,42.20 C551.52,39.83 550.97,38.34 550.37,36.94 C549.77,35.54 548.60,34.62 548.47,33.80 C548.33,32.98 549.38,32.30 549.57,32.00 Z" fill="url(#gB6)" stroke="#2b2b2b" stroke-width="1.2" stroke-linejoin="round"/>
<line x1="562.57" x2="562.57" y1="32.00" y2="155.60" stroke="#333" stroke-width="0.9"/>
<rect x="560.77" y="35.09" width="3.6" height="26.88" fill="#ffffff" fill-opacity="0.7" stroke="#3a3a3a" stroke-width="1.15"/>
<line x1="560.77" x2="564.37" y1="47.45" y2="47.45" stroke="#111" stroke-width="1.6"/>
<path d="M559.27,50.85 L562.57,47.55 L565.87,50.85 L562.57,54.15 Z" fill="#ffffff" stroke="#111" stroke-width="1.4" stroke-linejoin="round"/>
<defs><linearGradient id="gB7" gradientUnits="userSpaceOnUse" x1="0" x2="0" y1="80.82" y2="155.60"><stop offset="0.0000" stop-color="#a6a6a6"/><stop offset="0.1570" stop-color="#4a4a4a"/></linearGradient></defs>
<path d="M579.60,32.00 L606.00,32.00 C606.19,32.30 607.24,32.98 607.10,33.80 C606.97,34.62 605.82,35.54 605.20,36.94 C604.59,38.34 604.02,39.83 603.40,42.20 C602.79,44.57 602.12,48.17 601.50,51.16 C600.89,54.15 600.30,57.18 599.70,60.12 C599.10,63.05 598.40,66.45 597.90,68.77 C597.40,71.09 597.10,71.91 596.70,74.02 C596.30,76.14 595.91,78.71 595.50,81.44 C595.09,84.17 594.64,87.83 594.24,90.40 C593.83,92.98 593.28,86.02 593.08,96.89 C592.89,107.76 593.08,145.81 593.08,155.60 L592.52,155.60 C592.52,145.81 592.72,107.76 592.52,96.89 C592.33,86.02 591.77,92.98 591.37,90.40 C590.97,87.83 590.51,84.17 590.10,81.44 C589.69,78.71 589.30,76.14 588.90,74.02 C588.50,71.91 588.20,71.09 587.70,68.77 C587.20,66.45 586.50,63.05 585.90,60.12 C585.30,57.18 584.72,54.15 584.10,51.16 C583.49,48.17 582.82,44.57 582.20,42.20 C581.59,39.83 581.02,38.34 580.40,36.94 C579.79,35.54 578.64,34.62 578.50,33.80 C578.37,32.98 579.42,32.30 579.60,32.00 Z" fill="url(#gB7)" stroke="#2b2b2b" stroke-width="1.2" stroke-linejoin="round"/>
<line x1="592.80" x2="592.80" y1="32.00" y2="155.60" stroke="#333" stroke-width="0.9"/>
<rect x="591.00" y="35.09" width="3.6" height="26.88" fill="#ffffff" fill-opacity="0.7" stroke="#3a3a3a" stroke-width="1.15"/>
<line x1="591.00" x2="594.60" y1="46.83" y2="46.83" stroke="#111" stroke-width="1.6"/>
<path d="M589.50,52.70 L592.80,49.40 L596.10,52.70 L592.80,56.00 Z" fill="#ffffff" stroke="#111" stroke-width="1.4" stroke-linejoin="round"/>
<rect x="41.1" y="220.8" width="270.20" height="136.10" fill="#f3f3f3"/>
<line x1="41.1" x2="311.3" y1="335.30" y2="335.30" stroke="#ffffff" stroke-width="0.8"/>
<line x1="41.1" x2="311.3" y1="304.30" y2="304.30" stroke="#ffffff" stroke-width="0.8"/>
<line x1="41.1" x2="311.3" y1="273.30" y2="273.30" stroke="#ffffff" stroke-width="0.8"/>
<line x1="41.1" x2="311.3" y1="242.30" y2="242.30" stroke="#ffffff" stroke-width="0.8"/>
<line x1="41.1" x2="311.3" y1="350.80" y2="350.80" stroke="#ffffff" stroke-width="1.2"/>
<line x1="41.1" x2="311.3" y1="319.80" y2="319.80" stroke="#ffffff" stroke-width="1.2"/>
<line x1="41.1" x2="311.3" y1="288.80" y2="288.80" stroke="#ffffff" stroke-width="1.2"/>
<line x1="41.1" x2="311.3" y1="257.80" y2="257.80" stroke="#ffffff" stroke-width="1.2"/>
<line x1="41.1" x2="311.3" y1="226.80" y2="226.80" stroke="#ffffff" stroke-width="1.2"/>
<line x1="79.70" x2="79.70" y1="220.8" y2="356.9" stroke="#ffffff" stroke-width="1.1"/>
<line x1="144.03" x2="144.03" y1="220.8" y2="356.9" stroke="#ffffff" stroke-width="1.1"/>
<line x1="208.37" x2="208.37" y1="220.8" y2="356.9" stroke="#ffffff" stroke-width="1.1"/>
<line x1="272.70" x2="272.70" y1="220.8" y2="356.9" stroke="#ffffff" stroke-width="1.1"/>
<line x1="37.90" x2="40.50" y1="350.80" y2="350.80" stroke="#333" stroke-width="1"/>
<text x="35.50" y="354.20" text-anchor="end" font-size="9.4" fill="#4d4d4d">1</text>
<line x1="37.90" x2="40.50" y1="319.80" y2="319.80" stroke="#333" stroke-width="1"/>
<text x="35.50" y="323.20" text-anchor="end" font-size="9.4" fill="#4d4d4d">2</text>
<line x1="37.90" x2="40.50" y1="288.80" y2="288.80" stroke="#333" stroke-width="1"/>
<text x="35.50" y="292.20" text-anchor="end" font-size="9.4" fill="#4d4d4d">3</text>
<line x1="37.90" x2="40.50" y1="257.80" y2="257.80" stroke="#333" stroke-width="1"/>
<text x="35.50" y="261.20" text-anchor="end" font-size="9.4" fill="#4d4d4d">4</text>
<line x1="37.90" x2="40.50" y1="226.80" y2="226.80" stroke="#333" stroke-width="1"/>
<text x="35.50" y="230.20" text-anchor="end" font-size="9.4" fill="#4d4d4d">5</text>
<line x1="79.70" x2="79.70" y1="357.50" y2="359.90" stroke="#333" stroke-width="1"/>
<text x="71.00" y="373.20" text-anchor="middle" font-size="9.7" fill="#262626">All LGAs</text>
<line x1="144.03" x2="144.03" y1="357.50" y2="359.90" stroke="#333" stroke-width="1"/>
<text x="110.40" y="373.20" font-size="9.7" fill="#262626">Inner</text>
<text x="155.20" y="373.20" text-anchor="end" font-size="9.7" fill="#262626">LGA</text>
<text x="132.80" y="384.40" text-anchor="middle" font-size="9.7" fill="#262626">only</text>
<line x1="208.37" x2="208.37" y1="357.50" y2="359.90" stroke="#333" stroke-width="1"/>
<text x="200.00" y="373.20" text-anchor="middle" font-size="9.7" fill="#262626">Middle LGAs</text>
<text x="200.00" y="384.40" text-anchor="middle" font-size="9.7" fill="#262626">only</text>
<line x1="272.70" x2="272.70" y1="357.50" y2="359.90" stroke="#333" stroke-width="1"/>
<text x="269.00" y="373.20" text-anchor="middle" font-size="9.7" fill="#262626">Outer LGAs</text>
<text x="269.00" y="384.40" text-anchor="middle" font-size="9.7" fill="#262626">only</text>
<text x="33" y="211.0" font-size="11.4" font-weight="bold" fill="#000">C) Identity Values</text>
<defs><linearGradient id="gC0" gradientUnits="userSpaceOnUse" x1="0" x2="0" y1="298.69" y2="350.80"><stop offset="0.0000" stop-color="#dadada"/><stop offset="0.1974" stop-color="#4a4a4a"/></linearGradient></defs>
<path d="M53.62,226.80 L76.82,226.80 C77.01,227.10 77.97,227.77 77.92,228.60 C77.88,229.43 77.04,230.30 76.52,231.76 C76.01,233.22 75.09,235.53 74.82,237.34 C74.56,239.15 74.67,240.85 74.92,242.61 C75.17,244.37 75.87,246.12 76.32,247.88 C76.77,249.64 77.26,251.65 77.62,253.15 C77.99,254.65 78.59,255.06 78.52,256.87 C78.46,258.68 77.71,261.83 77.22,264.00 C76.74,266.17 76.26,267.51 75.62,269.89 C74.99,272.27 74.21,275.11 73.42,278.26 C72.64,281.41 71.84,285.34 70.92,288.80 C70.01,292.26 68.73,295.52 67.92,299.03 C67.12,302.54 66.45,306.42 66.08,309.88 C65.71,313.34 65.79,312.98 65.70,319.80 C65.60,326.62 65.54,345.63 65.50,350.80 L64.94,350.80 C64.91,345.63 64.85,326.62 64.75,319.80 C64.66,312.98 64.74,313.34 64.37,309.88 C64.00,306.42 63.33,302.54 62.52,299.03 C61.72,295.52 60.44,292.26 59.52,288.80 C58.61,285.34 57.81,281.41 57.02,278.26 C56.24,275.11 55.46,272.27 54.82,269.89 C54.19,267.51 53.71,266.17 53.22,264.00 C52.74,261.83 51.99,258.68 51.92,256.87 C51.86,255.06 52.46,254.65 52.82,253.15 C53.19,251.65 53.67,249.64 54.12,247.88 C54.57,246.12 55.27,244.37 55.52,242.61 C55.77,240.85 55.89,239.15 55.62,237.34 C55.36,235.53 54.44,233.22 53.92,231.76 C53.41,230.30 52.57,229.43 52.52,228.60 C52.47,227.77 53.44,227.10 53.62,226.80 Z" fill="url(#gC0)" stroke="#2b2b2b" stroke-width="1.2" stroke-linejoin="round"/>
<line x1="65.22" x2="65.22" y1="226.80" y2="350.80" stroke="#333" stroke-width="0.9"/>
<rect x="63.42" y="236.41" width="3.6" height="41.54" fill="#ffffff" fill-opacity="0.7" stroke="#3a3a3a" stroke-width="1.15"/>
<path d="M61.92,259.35 L65.22,256.05 L68.52,259.35 L65.22,262.65 Z" fill="#ffffff" stroke="#111" stroke-width="1.4" stroke-linejoin="round"/>
<defs><linearGradient id="gC1" gradientUnits="userSpaceOnUse" x1="0" x2="0" y1="294.89" y2="350.80"><stop offset="0.0000" stop-color="#a6a6a6"/><stop offset="0.2358" stop-color="#4a4a4a"/></linearGradient></defs>
<path d="M80.97,226.80 L107.37,226.80 C107.56,227.10 108.67,227.77 108.47,228.60 C108.27,229.43 106.84,230.30 106.17,231.76 C105.51,233.22 104.67,235.84 104.47,237.34 C104.27,238.84 104.61,239.56 104.97,240.75 C105.34,241.94 106.26,242.92 106.67,244.47 C107.09,246.02 107.41,247.73 107.47,250.05 C107.54,252.38 107.16,256.10 107.07,258.42 C106.99,260.75 107.26,262.09 106.97,264.00 C106.69,265.91 106.11,267.51 105.37,269.89 C104.64,272.27 103.37,275.73 102.57,278.26 C101.77,280.79 101.14,283.32 100.57,285.08 C100.01,286.84 99.71,287.56 99.17,288.80 C98.64,290.04 97.87,290.81 97.37,292.52 C96.88,294.22 96.57,296.14 96.18,299.03 C95.79,301.92 95.22,302.80 95.03,309.88 C94.84,316.96 94.93,335.20 95.03,341.50 C95.13,347.80 95.61,346.15 95.61,347.70 C95.61,349.25 95.13,350.28 95.03,350.80 L93.32,350.80 C93.22,350.28 92.74,349.25 92.74,347.70 C92.74,346.15 93.22,347.80 93.32,341.50 C93.41,335.20 93.51,316.96 93.32,309.88 C93.13,302.80 92.56,301.92 92.17,299.03 C91.78,296.14 91.47,294.22 90.97,292.52 C90.48,290.81 89.71,290.04 89.17,288.80 C88.64,287.56 88.34,286.84 87.77,285.08 C87.21,283.32 86.57,280.79 85.77,278.26 C84.97,275.73 83.71,272.27 82.97,269.89 C82.24,267.51 81.66,265.91 81.37,264.00 C81.09,262.09 81.36,260.75 81.27,258.42 C81.19,256.10 80.81,252.38 80.87,250.05 C80.94,247.73 81.26,246.02 81.67,244.47 C82.09,242.92 83.01,241.94 83.37,240.75 C83.74,239.56 84.07,238.84 83.87,237.34 C83.67,235.84 82.84,233.22 82.17,231.76 C81.51,230.30 80.07,229.43 79.87,228.60 C79.67,227.77 80.79,227.10 80.97,226.80 Z" fill="url(#gC1)" stroke="#2b2b2b" stroke-width="1.2" stroke-linejoin="round"/>
<line x1="94.17" x2="94.17" y1="226.80" y2="350.80" stroke="#333" stroke-width="0.9"/>
<rect x="92.37" y="236.41" width="3.6" height="31.93" fill="#ffffff" fill-opacity="0.7" stroke="#3a3a3a" stroke-width="1.15"/>
<path d="M90.87,258.42 L94.17,255.12 L97.47,258.42 L94.17,261.72 Z" fill="#ffffff" stroke="#111" stroke-width="1.4" stroke-linejoin="round"/>
<defs><linearGradient id="gC2" gradientUnits="userSpaceOnUse" x1="0" x2="0" y1="295.31" y2="350.80"><stop offset="0.0000" stop-color="#dadada"/><stop offset="0.1788" stop-color="#4a4a4a"/><stop offset="0.8603" stop-color="#4a4a4a"/><stop offset="0.8939" stop-color="#c4c4c4"/><stop offset="0.9497" stop-color="#c4c4c4"/><stop offset="0.9832" stop-color="#4a4a4a"/></linearGradient></defs>
<path d="M117.86,226.80 L141.26,226.80 C141.44,227.10 142.29,227.77 142.36,228.60 C142.42,229.43 141.81,230.30 141.66,231.76 C141.51,233.22 141.41,235.53 141.46,237.34 C141.51,239.15 141.77,240.85 141.96,242.61 C142.14,244.37 142.42,246.12 142.56,247.88 C142.69,249.64 142.72,251.39 142.76,253.15 C142.79,254.91 142.92,256.61 142.76,258.42 C142.59,260.23 142.21,262.09 141.76,264.00 C141.31,265.91 140.77,267.51 140.06,269.89 C139.34,272.27 138.51,275.11 137.46,278.26 C136.41,281.41 134.77,285.34 133.76,288.80 C132.74,292.26 132.00,295.52 131.37,299.03 C130.75,302.54 130.29,303.83 130.03,309.88 C129.77,315.93 129.84,330.29 129.84,335.30 C129.84,340.31 129.90,338.40 130.03,339.95 C130.16,341.50 130.46,343.15 130.61,344.60 C130.75,346.05 130.93,347.60 130.89,348.63 C130.86,349.66 130.49,350.44 130.41,350.80 L128.70,350.80 C128.62,350.44 128.25,349.66 128.22,348.63 C128.19,347.60 128.37,346.05 128.51,344.60 C128.65,343.15 128.96,341.50 129.09,339.95 C129.21,338.40 129.28,340.31 129.28,335.30 C129.28,330.29 129.34,315.93 129.09,309.88 C128.83,303.83 128.36,302.54 127.74,299.03 C127.12,295.52 126.37,292.26 125.36,288.80 C124.34,285.34 122.71,281.41 121.66,278.26 C120.61,275.11 119.77,272.27 119.06,269.89 C118.34,267.51 117.81,265.91 117.36,264.00 C116.91,262.09 116.52,260.23 116.36,258.42 C116.19,256.61 116.32,254.91 116.36,253.15 C116.39,251.39 116.42,249.64 116.56,247.88 C116.69,246.12 116.97,244.37 117.16,242.61 C117.34,240.85 117.61,239.15 117.66,237.34 C117.71,235.53 117.61,233.22 117.46,231.76 C117.31,230.30 116.69,229.43 116.76,228.60 C116.82,227.77 117.67,227.10 117.86,226.80 Z" fill="url(#gC2)" stroke="#2b2b2b" stroke-width="1.2" stroke-linejoin="round"/>
<line x1="129.56" x2="129.56" y1="226.80" y2="350.80" stroke="#333" stroke-width="0.9"/>
<rect x="127.76" y="236.41" width="3.6" height="31.93" fill="#ffffff" fill-opacity="0.7" stroke="#3a3a3a" stroke-width="1.15"/>
<line x1="127.76" x2="131.36" y1="246.95" y2="246.95" stroke="#111" stroke-width="1.6"/>
<path d="M126.26,256.56 L129.56,253.26 L132.86,256.56 L129.56,259.86 Z" fill="#ffffff" stroke="#111" stroke-width="1.4" stroke-linejoin="round"/>
<defs><linearGradient id="gC3" gradientUnits="userSpaceOnUse" x1="0" x2="0" y1="296.59" y2="350.80"><stop offset="0.0000" stop-color="#a6a6a6"/><stop offset="0.2201" stop-color="#4a4a4a"/></linearGradient></defs>
<path d="M146.51,226.80 L170.51,226.80 C170.69,227.10 171.54,227.77 171.61,228.60 C171.67,229.43 171.12,230.30 170.91,231.76 C170.69,233.22 170.51,235.94 170.31,237.34 C170.11,238.74 169.77,237.55 169.71,240.13 C169.64,242.71 169.91,250.05 169.91,252.84 C169.91,255.63 169.92,254.70 169.71,256.87 C169.49,259.04 168.97,263.33 168.61,265.86 C168.24,268.39 167.99,269.94 167.51,272.06 C167.02,274.18 166.47,275.78 165.71,278.57 C164.94,281.36 163.72,285.39 162.91,288.80 C162.09,292.21 161.40,295.52 160.81,299.03 C160.22,302.54 159.67,306.42 159.36,309.88 C159.06,313.34 159.08,312.98 158.98,319.80 C158.88,326.62 158.82,345.63 158.79,350.80 L158.23,350.80 C158.20,345.63 158.13,326.62 158.04,319.80 C157.94,312.98 157.96,313.34 157.65,309.88 C157.35,306.42 156.80,302.54 156.21,299.03 C155.62,295.52 154.92,292.21 154.11,288.80 C153.29,285.39 152.07,281.36 151.31,278.57 C150.54,275.78 149.99,274.18 149.51,272.06 C149.02,269.94 148.77,268.39 148.41,265.86 C148.04,263.33 147.52,259.04 147.31,256.87 C147.09,254.70 147.11,255.63 147.11,252.84 C147.11,250.05 147.37,242.71 147.31,240.13 C147.24,237.55 146.91,238.74 146.71,237.34 C146.51,235.94 146.32,233.22 146.11,231.76 C145.89,230.30 145.34,229.43 145.41,228.60 C145.47,227.77 146.32,227.10 146.51,226.80 Z" fill="url(#gC3)" stroke="#2b2b2b" stroke-width="1.2" stroke-linejoin="round"/>
<line x1="158.51" x2="158.51" y1="226.80" y2="350.80" stroke="#333" stroke-width="0.9"/>
<rect x="156.71" y="236.41" width="3.6" height="31.31" fill="#ffffff" fill-opacity="0.7" stroke="#3a3a3a" stroke-width="1.15"/>
<path d="M155.21,256.56 L158.51,253.26 L161.81,256.56 L158.51,259.86 Z" fill="#ffffff" stroke="#111" stroke-width="1.4" stroke-linejoin="round"/>
<defs><linearGradient id="gC4" gradientUnits="userSpaceOnUse" x1="0" x2="0" y1="298.52" y2="350.80"><stop offset="0.0000" stop-color="#dadada"/><stop offset="0.2000" stop-color="#4a4a4a"/></linearGradient></defs>
<path d="M183.59,226.80 L204.19,226.80 C204.38,227.10 205.22,227.77 205.29,228.60 C205.36,229.43 204.82,230.30 204.59,231.76 C204.36,233.22 203.81,235.53 203.89,237.34 C203.97,239.15 204.69,240.85 205.09,242.61 C205.49,244.37 205.86,246.12 206.29,247.88 C206.72,249.64 207.46,251.39 207.69,253.15 C207.93,254.91 207.93,256.61 207.69,258.42 C207.46,260.23 206.76,262.09 206.29,264.00 C205.82,265.91 205.54,267.51 204.89,269.89 C204.24,272.27 203.44,275.11 202.39,278.26 C201.34,281.41 199.56,285.34 198.59,288.80 C197.62,292.26 197.23,295.52 196.59,299.03 C195.95,302.54 195.12,306.42 194.75,309.88 C194.38,313.34 194.46,312.98 194.36,319.80 C194.27,326.62 194.20,345.63 194.17,350.80 L193.61,350.80 C193.58,345.63 193.52,326.62 193.42,319.80 C193.32,312.98 193.41,313.34 193.04,309.88 C192.66,306.42 191.83,302.54 191.19,299.03 C190.55,295.52 190.16,292.26 189.19,288.80 C188.22,285.34 186.44,281.41 185.39,278.26 C184.34,275.11 183.54,272.27 182.89,269.89 C182.24,267.51 181.96,265.91 181.49,264.00 C181.02,262.09 180.32,260.23 180.09,258.42 C179.86,256.61 179.86,254.91 180.09,253.15 C180.32,251.39 181.06,249.64 181.49,247.88 C181.92,246.12 182.29,244.37 182.69,242.61 C183.09,240.85 183.81,239.15 183.89,237.34 C183.97,235.53 183.43,233.22 183.19,231.76 C182.96,230.30 182.42,229.43 182.49,228.60 C182.56,227.77 183.41,227.10 183.59,226.80 Z" fill="url(#gC4)" stroke="#2b2b2b" stroke-width="1.2" stroke-linejoin="round"/>
<line x1="193.89" x2="193.89" y1="226.80" y2="350.80" stroke="#333" stroke-width="0.9"/>
<rect x="192.09" y="236.41" width="3.6" height="42.47" fill="#ffffff" fill-opacity="0.7" stroke="#3a3a3a" stroke-width="1.15"/>
<path d="M190.59,259.35 L193.89,256.05 L197.19,259.35 L193.89,262.65 Z" fill="#ffffff" stroke="#111" stroke-width="1.4" stroke-linejoin="round"/>
<defs><linearGradient id="gC5" gradientUnits="userSpaceOnUse" x1="0" x2="0" y1="300.84" y2="350.80"><stop offset="0.0000" stop-color="#a6a6a6"/><stop offset="0.3175" stop-color="#4a4a4a"/></linearGradient></defs>
<path d="M211.24,226.80 L234.44,226.80 C234.62,227.10 235.54,227.77 235.54,228.60 C235.54,229.43 234.76,230.30 234.44,231.76 C234.12,233.22 233.56,235.53 233.64,237.34 C233.72,239.15 234.52,240.85 234.94,242.61 C235.36,244.37 235.84,246.12 236.14,247.88 C236.44,249.64 236.64,251.39 236.74,253.15 C236.84,254.91 236.89,256.61 236.74,258.42 C236.59,260.23 236.27,262.09 235.84,264.00 C235.41,265.91 234.96,267.51 234.14,269.89 C233.32,272.27 231.97,275.11 230.94,278.26 C229.91,281.41 228.79,285.34 227.94,288.80 C227.09,292.26 226.45,295.52 225.84,299.03 C225.23,302.54 224.60,306.94 224.27,309.88 C223.95,312.82 224.05,314.53 223.89,316.70 C223.73,318.87 223.44,317.22 223.31,322.90 C223.19,328.58 223.15,346.15 223.12,350.80 L222.56,350.80 C222.53,346.15 222.50,328.58 222.37,322.90 C222.24,317.22 221.95,318.87 221.79,316.70 C221.63,314.53 221.73,312.82 221.41,309.88 C221.08,306.94 220.45,302.54 219.84,299.03 C219.23,295.52 218.59,292.26 217.74,288.80 C216.89,285.34 215.77,281.41 214.74,278.26 C213.71,275.11 212.36,272.27 211.54,269.89 C210.72,267.51 210.27,265.91 209.84,264.00 C209.41,262.09 209.09,260.23 208.94,258.42 C208.79,256.61 208.84,254.91 208.94,253.15 C209.04,251.39 209.24,249.64 209.54,247.88 C209.84,246.12 210.32,244.37 210.74,242.61 C211.16,240.85 211.96,239.15 212.04,237.34 C212.12,235.53 211.56,233.22 211.24,231.76 C210.92,230.30 210.14,229.43 210.14,228.60 C210.14,227.77 211.06,227.10 211.24,226.80 Z" fill="url(#gC5)" stroke="#2b2b2b" stroke-width="1.2" stroke-linejoin="round"/>
<line x1="222.84" x2="222.84" y1="226.80" y2="350.80" stroke="#333" stroke-width="0.9"/>
<rect x="221.04" y="236.41" width="3.6" height="31.31" fill="#ffffff" fill-opacity="0.7" stroke="#3a3a3a" stroke-width="1.15"/>
<path d="M219.54,257.49 L222.84,254.19 L226.14,257.49 L222.84,260.79 Z" fill="#ffffff" stroke="#111" stroke-width="1.4" stroke-linejoin="round"/>
<defs><linearGradient id="gC6" gradientUnits="userSpaceOnUse" x1="0" x2="0" y1="298.65" y2="350.80"><stop offset="0.0000" stop-color="#dadada"/><stop offset="0.1980" stop-color="#4a4a4a"/></linearGradient></defs>
<path d="M247.22,226.80 L269.22,226.80 C269.41,227.10 270.38,227.77 270.32,228.60 C270.27,229.43 269.39,230.30 268.92,231.76 C268.46,233.22 267.62,235.53 267.52,237.34 C267.42,239.15 267.89,240.85 268.32,242.61 C268.76,244.37 269.62,246.12 270.12,247.88 C270.62,249.64 271.09,251.39 271.32,253.15 C271.56,254.91 271.66,256.61 271.52,258.42 C271.39,260.23 271.07,262.09 270.52,264.00 C269.97,265.91 268.99,267.51 268.22,269.89 C267.46,272.27 266.69,275.11 265.92,278.26 C265.16,281.41 264.46,285.34 263.62,288.80 C262.79,292.26 261.68,295.52 260.92,299.03 C260.17,302.54 259.45,306.42 259.08,309.88 C258.71,313.34 258.79,312.98 258.70,319.80 C258.60,326.62 258.54,345.63 258.50,350.80 L257.94,350.80 C257.91,345.63 257.85,326.62 257.75,319.80 C257.66,312.98 257.74,313.34 257.37,309.88 C257.00,306.42 256.28,302.54 255.52,299.03 C254.77,295.52 253.66,292.26 252.82,288.80 C251.99,285.34 251.29,281.41 250.52,278.26 C249.76,275.11 248.99,272.27 248.22,269.89 C247.46,267.51 246.47,265.91 245.92,264.00 C245.37,262.09 245.06,260.23 244.92,258.42 C244.79,256.61 244.89,254.91 245.12,253.15 C245.36,251.39 245.82,249.64 246.32,247.88 C246.82,246.12 247.69,244.37 248.12,242.61 C248.56,240.85 249.02,239.15 248.92,237.34 C248.82,235.53 247.99,233.22 247.52,231.76 C247.06,230.30 246.17,229.43 246.12,228.60 C246.07,227.77 247.04,227.10 247.22,226.80 Z" fill="url(#gC6)" stroke="#2b2b2b" stroke-width="1.2" stroke-linejoin="round"/>
<line x1="258.22" x2="258.22" y1="226.80" y2="350.80" stroke="#333" stroke-width="0.9"/>
<rect x="256.42" y="236.41" width="3.6" height="42.47" fill="#ffffff" fill-opacity="0.7" stroke="#3a3a3a" stroke-width="1.15"/>
<path d="M254.92,259.97 L258.22,256.67 L261.52,259.97 L258.22,263.27 Z" fill="#ffffff" stroke="#111" stroke-width="1.4" stroke-linejoin="round"/>
<defs><linearGradient id="gC7" gradientUnits="userSpaceOnUse" x1="0" x2="0" y1="301.99" y2="350.80"><stop offset="0.0000" stop-color="#a6a6a6"/><stop offset="0.3242" stop-color="#4a4a4a"/></linearGradient></defs>
<path d="M276.38,226.80 L297.98,226.80 C298.16,227.10 299.09,227.77 299.07,228.60 C299.06,229.43 298.07,230.30 297.88,231.76 C297.68,233.22 297.66,235.53 297.88,237.34 C298.09,239.15 298.79,240.85 299.18,242.61 C299.56,244.37 299.93,246.12 300.18,247.88 C300.43,249.64 300.59,251.39 300.68,253.15 C300.76,254.91 300.86,256.61 300.68,258.42 C300.49,260.23 300.27,262.09 299.57,264.00 C298.88,265.91 297.31,267.51 296.48,269.89 C295.64,272.27 295.24,275.11 294.57,278.26 C293.91,281.41 293.19,285.34 292.48,288.80 C291.76,292.26 290.86,295.52 290.28,299.03 C289.69,302.54 289.37,306.42 288.99,309.88 C288.62,313.34 288.25,314.01 288.03,319.80 C287.81,325.59 287.62,339.69 287.65,344.60 C287.68,349.51 288.22,348.22 288.22,349.25 C288.22,350.28 287.74,350.54 287.65,350.80 L286.70,350.80 C286.61,350.54 286.13,350.28 286.13,349.25 C286.13,348.22 286.67,349.51 286.70,344.60 C286.74,339.69 286.54,325.59 286.32,319.80 C286.10,314.01 285.73,313.34 285.36,309.88 C284.99,306.42 284.66,302.54 284.07,299.03 C283.49,295.52 282.59,292.26 281.88,288.80 C281.16,285.34 280.44,281.41 279.78,278.26 C279.11,275.11 278.71,272.27 277.88,269.89 C277.04,267.51 275.48,265.91 274.78,264.00 C274.08,262.09 273.86,260.23 273.68,258.42 C273.49,256.61 273.59,254.91 273.68,253.15 C273.76,251.39 273.93,249.64 274.18,247.88 C274.43,246.12 274.79,244.37 275.18,242.61 C275.56,240.85 276.26,239.15 276.48,237.34 C276.69,235.53 276.68,233.22 276.48,231.76 C276.28,230.30 275.29,229.43 275.28,228.60 C275.26,227.77 276.19,227.10 276.38,226.80 Z" fill="url(#gC7)" stroke="#2b2b2b" stroke-width="1.2" stroke-linejoin="round"/>
<line x1="287.18" x2="287.18" y1="226.80" y2="350.80" stroke="#333" stroke-width="0.9"/>
<rect x="285.38" y="236.41" width="3.6" height="42.47" fill="#ffffff" fill-opacity="0.7" stroke="#3a3a3a" stroke-width="1.15"/>
<path d="M283.88,259.35 L287.18,256.05 L290.48,259.35 L287.18,262.65 Z" fill="#ffffff" stroke="#111" stroke-width="1.4" stroke-linejoin="round"/>
<rect x="337.0" y="220.8" width="281.30" height="136.10" fill="#f3f3f3"/>
<line x1="337.0" x2="618.3" y1="335.30" y2="335.30" stroke="#ffffff" stroke-width="0.8"/>
<line x1="337.0" x2="618.3" y1="304.30" y2="304.30" stroke="#ffffff" stroke-width="0.8"/>
<line x1="337.0" x2="618.3" y1="273.30" y2="273.30" stroke="#ffffff" stroke-width="0.8"/>
<line x1="337.0" x2="618.3" y1="242.30" y2="242.30" stroke="#ffffff" stroke-width="0.8"/>
<line x1="337.0" x2="618.3" y1="350.80" y2="350.80" stroke="#ffffff" stroke-width="1.2"/>
<line x1="337.0" x2="618.3" y1="319.80" y2="319.80" stroke="#ffffff" stroke-width="1.2"/>
<line x1="337.0" x2="618.3" y1="288.80" y2="288.80" stroke="#ffffff" stroke-width="1.2"/>
<line x1="337.0" x2="618.3" y1="257.80" y2="257.80" stroke="#ffffff" stroke-width="1.2"/>
<line x1="337.0" x2="618.3" y1="226.80" y2="226.80" stroke="#ffffff" stroke-width="1.2"/>
<line x1="377.19" x2="377.19" y1="220.8" y2="356.9" stroke="#ffffff" stroke-width="1.1"/>
<line x1="444.16" x2="444.16" y1="220.8" y2="356.9" stroke="#ffffff" stroke-width="1.1"/>
<line x1="511.14" x2="511.14" y1="220.8" y2="356.9" stroke="#ffffff" stroke-width="1.1"/>
<line x1="578.11" x2="578.11" y1="220.8" y2="356.9" stroke="#ffffff" stroke-width="1.1"/>
<line x1="333.80" x2="336.40" y1="350.80" y2="350.80" stroke="#333" stroke-width="1"/>
<text x="331.40" y="354.20" text-anchor="end" font-size="9.4" fill="#4d4d4d">1</text>
<line x1="333.80" x2="336.40" y1="319.80" y2="319.80" stroke="#333" stroke-width="1"/>
<text x="331.40" y="323.20" text-anchor="end" font-size="9.4" fill="#4d4d4d">2</text>
<line x1="333.80" x2="336.40" y1="288.80" y2="288.80" stroke="#333" stroke-width="1"/>
<text x="331.40" y="292.20" text-anchor="end" font-size="9.4" fill="#4d4d4d">3</text>
<line x1="333.80" x2="336.40" y1="257.80" y2="257.80" stroke="#333" stroke-width="1"/>
<text x="331.40" y="261.20" text-anchor="end" font-size="9.4" fill="#4d4d4d">4</text>
<line x1="333.80" x2="336.40" y1="226.80" y2="226.80" stroke="#333" stroke-width="1"/>
<text x="331.40" y="230.20" text-anchor="end" font-size="9.4" fill="#4d4d4d">5</text>
<line x1="377.19" x2="377.19" y1="357.50" y2="359.90" stroke="#333" stroke-width="1"/>
<text x="370.10" y="373.20" text-anchor="middle" font-size="9.7" fill="#262626">All LGAs</text>
<line x1="444.16" x2="444.16" y1="357.50" y2="359.90" stroke="#333" stroke-width="1"/>
<text x="416.40" y="373.20" font-size="9.7" fill="#262626">Inner</text>
<text x="461.20" y="373.20" text-anchor="end" font-size="9.7" fill="#262626">LGA</text>
<text x="438.80" y="384.40" text-anchor="middle" font-size="9.7" fill="#262626">only</text>
<line x1="511.14" x2="511.14" y1="357.50" y2="359.90" stroke="#333" stroke-width="1"/>
<text x="506.50" y="373.20" text-anchor="middle" font-size="9.7" fill="#262626">Middle LGAs</text>
<text x="506.50" y="384.40" text-anchor="middle" font-size="9.7" fill="#262626">only</text>
<line x1="578.11" x2="578.11" y1="357.50" y2="359.90" stroke="#333" stroke-width="1"/>
<text x="575.70" y="373.20" text-anchor="middle" font-size="9.7" fill="#262626">Outer LGAs</text>
<text x="575.70" y="384.40" text-anchor="middle" font-size="9.7" fill="#262626">only</text>
<text x="328.8" y="211.0" font-size="11.4" font-weight="bold" fill="#000">D) Natural Values</text>
<defs><linearGradient id="gD0" gradientUnits="userSpaceOnUse" x1="0" x2="0" y1="289.42" y2="350.80"><stop offset="0.0000" stop-color="#dadada"/><stop offset="0.0909" stop-color="#4a4a4a"/><stop offset="0.1919" stop-color="#4a4a4a"/><stop offset="0.2222" stop-color="#c4c4c4"/><stop offset="0.2727" stop-color="#c4c4c4"/><stop offset="0.3030" stop-color="#4a4a4a"/></linearGradient></defs>
<path d="M346.72,226.80 L377.52,226.80 C376.95,227.21 375.25,228.35 374.12,229.28 C372.98,230.21 371.67,231.40 370.72,232.38 C369.77,233.36 368.75,234.14 368.42,235.17 C368.08,236.20 368.42,237.34 368.72,238.58 C369.02,239.82 370.27,241.47 370.22,242.61 C370.17,243.75 369.13,244.42 368.42,245.40 C367.70,246.38 366.42,247.67 365.92,248.50 C365.42,249.33 365.35,249.64 365.42,250.36 C365.48,251.08 365.80,251.91 366.32,252.84 C366.83,253.77 368.08,255.01 368.52,255.94 C368.95,256.87 369.07,257.59 368.92,258.42 C368.77,259.25 368.28,259.87 367.62,260.90 C366.95,261.93 365.23,263.59 364.92,264.62 C364.60,265.65 365.48,266.33 365.72,267.10 C365.95,267.88 366.10,268.24 366.32,269.27 C366.53,270.30 367.03,272.22 367.02,273.30 C367.00,274.38 366.58,274.90 366.22,275.78 C365.85,276.66 365.12,277.59 364.82,278.57 C364.52,279.55 364.42,280.53 364.42,281.67 C364.42,282.81 364.83,284.31 364.82,285.39 C364.80,286.47 364.59,287.25 364.32,288.18 C364.04,289.11 363.48,289.73 363.16,290.97 C362.84,292.21 362.43,294.07 362.40,295.62 C362.36,297.17 362.72,298.72 362.97,300.27 C363.23,301.82 364.03,303.37 363.93,304.92 C363.84,306.47 362.65,307.09 362.40,309.57 C362.14,312.05 362.40,312.93 362.40,319.80 C362.40,326.67 362.40,345.63 362.40,350.80 L361.84,350.80 C361.84,345.63 361.84,326.67 361.84,319.80 C361.84,312.93 362.09,312.05 361.84,309.57 C361.58,307.09 360.40,306.47 360.30,304.92 C360.20,303.37 361.00,301.82 361.26,300.27 C361.52,298.72 361.87,297.17 361.84,295.62 C361.80,294.07 361.39,292.21 361.07,290.97 C360.75,289.73 360.19,289.11 359.92,288.18 C359.64,287.25 359.43,286.47 359.42,285.39 C359.40,284.31 359.82,282.81 359.82,281.67 C359.82,280.53 359.72,279.55 359.42,278.57 C359.12,277.59 358.38,276.66 358.02,275.78 C357.65,274.90 357.23,274.38 357.22,273.30 C357.20,272.22 357.70,270.30 357.92,269.27 C358.13,268.24 358.28,267.88 358.52,267.10 C358.75,266.33 359.63,265.65 359.32,264.62 C359.00,263.59 357.28,261.93 356.62,260.90 C355.95,259.87 355.47,259.25 355.32,258.42 C355.17,257.59 355.28,256.87 355.72,255.94 C356.15,255.01 357.40,253.77 357.92,252.84 C358.43,251.91 358.75,251.08 358.82,250.36 C358.88,249.64 358.82,249.33 358.32,248.50 C357.82,247.67 356.53,246.38 355.82,245.40 C355.10,244.42 354.07,243.75 354.02,242.61 C353.97,241.47 355.22,239.82 355.52,238.58 C355.82,237.34 356.15,236.20 355.82,235.17 C355.48,234.14 354.47,233.36 353.52,232.38 C352.57,231.40 351.25,230.21 350.12,229.28 C348.98,228.35 347.28,227.21 346.72,226.80 Z" fill="url(#gD0)" stroke="#2b2b2b" stroke-width="1.2" stroke-linejoin="round"/>
<line x1="362.12" x2="362.12" y1="226.80" y2="350.80" stroke="#333" stroke-width="0.9"/>
<rect x="360.32" y="226.80" width="3.6" height="31.00" fill="#ffffff" fill-opacity="0.7" stroke="#3a3a3a" stroke-width="1.15"/>
<line x1="360.32" x2="363.92" y1="242.30" y2="242.30" stroke="#111" stroke-width="1.6"/>
<path d="M358.82,249.74 L362.12,246.44 L365.42,249.74 L362.12,253.04 Z" fill="#ffffff" stroke="#111" stroke-width="1.4" stroke-linejoin="round"/>
<defs><linearGradient id="gD1" gradientUnits="userSpaceOnUse" x1="0" x2="0" y1="283.96" y2="350.80"><stop offset="0.0000" stop-color="#a6a6a6"/><stop offset="0.2271" stop-color="#4a4a4a"/></linearGradient></defs>
<path d="M380.66,226.80 L403.86,226.80 C403.59,227.21 402.79,228.35 402.26,229.28 C401.72,230.21 401.16,231.35 400.66,232.38 C400.16,233.41 399.54,234.45 399.26,235.48 C398.97,236.51 399.01,237.55 398.96,238.58 C398.91,239.61 398.87,240.65 398.96,241.68 C399.04,242.71 399.39,243.75 399.46,244.78 C399.52,245.81 399.46,246.85 399.36,247.88 C399.26,248.91 398.89,249.95 398.86,250.98 C398.82,252.01 399.06,252.89 399.16,254.08 C399.26,255.27 399.47,256.92 399.46,258.11 C399.44,259.30 399.39,259.97 399.06,261.21 C398.72,262.45 397.92,264.05 397.46,265.55 C396.99,267.05 396.52,268.91 396.26,270.20 C395.99,271.49 395.94,272.32 395.86,273.30 C395.77,274.28 395.91,274.13 395.76,276.09 C395.61,278.05 395.16,282.96 394.96,285.08 C394.76,287.20 394.77,287.15 394.56,288.80 C394.34,290.45 393.93,292.93 393.69,295.00 C393.45,297.07 393.27,298.62 393.11,301.20 C392.95,303.78 392.82,302.23 392.73,310.50 C392.63,318.77 392.57,344.08 392.54,350.80 L391.98,350.80 C391.94,344.08 391.88,318.77 391.78,310.50 C391.69,302.23 391.56,303.78 391.40,301.20 C391.24,298.62 391.06,297.07 390.82,295.00 C390.58,292.93 390.17,290.45 389.96,288.80 C389.74,287.15 389.76,287.20 389.56,285.08 C389.36,282.96 388.91,278.05 388.76,276.09 C388.61,274.13 388.74,274.28 388.66,273.30 C388.57,272.32 388.52,271.49 388.26,270.20 C387.99,268.91 387.52,267.05 387.06,265.55 C386.59,264.05 385.79,262.45 385.46,261.21 C385.12,259.97 385.07,259.30 385.06,258.11 C385.04,256.92 385.26,255.27 385.36,254.08 C385.46,252.89 385.69,252.01 385.66,250.98 C385.62,249.95 385.26,248.91 385.16,247.88 C385.06,246.85 384.99,245.81 385.06,244.78 C385.12,243.75 385.47,242.71 385.56,241.68 C385.64,240.65 385.61,239.61 385.56,238.58 C385.51,237.55 385.54,236.51 385.26,235.48 C384.97,234.45 384.36,233.41 383.86,232.38 C383.36,231.35 382.79,230.21 382.26,229.28 C381.72,228.35 380.92,227.21 380.66,226.80 Z" fill="url(#gD1)" stroke="#2b2b2b" stroke-width="1.2" stroke-linejoin="round"/>
<line x1="392.26" x2="392.26" y1="226.80" y2="350.80" stroke="#333" stroke-width="0.9"/>
<rect x="390.46" y="226.80" width="3.6" height="45.57" fill="#ffffff" fill-opacity="0.7" stroke="#3a3a3a" stroke-width="1.15"/>
<line x1="390.46" x2="394.06" y1="241.68" y2="241.68" stroke="#111" stroke-width="1.6"/>
<path d="M388.96,252.53 L392.26,249.23 L395.56,252.53 L392.26,255.83 Z" fill="#ffffff" stroke="#111" stroke-width="1.4" stroke-linejoin="round"/>
<defs><linearGradient id="gD2" gradientUnits="userSpaceOnUse" x1="0" x2="0" y1="296.30" y2="350.80"><stop offset="0.0000" stop-color="#dadada"/><stop offset="0.2491" stop-color="#4a4a4a"/></linearGradient></defs>
<path d="M421.09,226.80 L437.09,226.80 C437.28,227.10 438.08,228.03 438.19,228.60 C438.31,229.17 438.03,229.12 437.79,230.21 C437.56,231.31 437.09,233.46 436.79,235.17 C436.49,236.88 436.24,238.68 435.99,240.44 C435.74,242.20 435.49,244.01 435.29,245.71 C435.09,247.42 434.91,248.96 434.79,250.67 C434.68,252.38 434.64,254.18 434.59,255.94 C434.54,257.70 434.54,259.71 434.49,261.21 C434.44,262.71 434.33,263.48 434.29,264.93 C434.26,266.38 434.39,267.67 434.29,269.89 C434.19,272.11 433.91,275.11 433.69,278.26 C433.48,281.41 433.36,285.34 432.99,288.80 C432.63,292.26 431.97,295.52 431.49,299.03 C431.02,302.54 430.49,306.42 430.14,309.88 C429.79,313.34 429.50,312.98 429.37,319.80 C429.24,326.62 429.37,345.63 429.37,350.80 L428.81,350.80 C428.81,345.63 428.94,326.62 428.81,319.80 C428.68,312.98 428.40,313.34 428.04,309.88 C427.69,306.42 427.17,302.54 426.69,299.03 C426.22,295.52 425.56,292.26 425.19,288.80 C424.83,285.34 424.71,281.41 424.49,278.26 C424.28,275.11 423.99,272.11 423.89,269.89 C423.79,267.67 423.93,266.38 423.89,264.93 C423.86,263.48 423.74,262.71 423.69,261.21 C423.64,259.71 423.64,257.70 423.59,255.94 C423.54,254.18 423.51,252.38 423.39,250.67 C423.28,248.96 423.09,247.42 422.89,245.71 C422.69,244.01 422.44,242.20 422.19,240.44 C421.94,238.68 421.69,236.88 421.39,235.17 C421.09,233.46 420.63,231.31 420.39,230.21 C420.16,229.12 419.88,229.17 419.99,228.60 C420.11,228.03 420.91,227.10 421.09,226.80 Z" fill="url(#gD2)" stroke="#2b2b2b" stroke-width="1.2" stroke-linejoin="round"/>
<line x1="429.09" x2="429.09" y1="226.80" y2="350.80" stroke="#333" stroke-width="0.9"/>
<rect x="427.29" y="226.80" width="3.6" height="41.54" fill="#ffffff" fill-opacity="0.7" stroke="#3a3a3a" stroke-width="1.15"/>
<line x1="427.29" x2="430.89" y1="241.37" y2="241.37" stroke="#111" stroke-width="1.6"/>
<path d="M425.79,250.67 L429.09,247.37 L432.39,250.67 L429.09,253.97 Z" fill="#ffffff" stroke="#111" stroke-width="1.4" stroke-linejoin="round"/>
<defs><linearGradient id="gD3" gradientUnits="userSpaceOnUse" x1="0" x2="0" y1="290.58" y2="350.80"><stop offset="0.0000" stop-color="#a6a6a6"/><stop offset="0.2690" stop-color="#4a4a4a"/></linearGradient></defs>
<path d="M453.23,226.80 L465.23,226.80 C465.41,227.10 466.20,228.03 466.33,228.60 C466.46,229.17 466.11,227.93 466.03,230.21 C465.95,232.49 465.90,237.70 465.83,242.30 C465.76,246.90 465.70,254.03 465.63,257.80 C465.56,261.57 465.60,262.92 465.43,264.93 C465.26,266.94 464.93,267.67 464.63,269.89 C464.33,272.11 464.03,275.11 463.63,278.26 C463.23,281.41 462.71,285.34 462.23,288.80 C461.75,292.26 461.12,295.52 460.76,299.03 C460.40,302.54 460.30,306.42 460.09,309.88 C459.88,313.34 459.61,312.98 459.51,319.80 C459.42,326.62 459.51,345.63 459.51,350.80 L458.95,350.80 C458.95,345.63 459.05,326.62 458.95,319.80 C458.86,312.98 458.58,313.34 458.38,309.88 C458.17,306.42 458.06,302.54 457.70,299.03 C457.35,295.52 456.71,292.26 456.23,288.80 C455.75,285.34 455.23,281.41 454.83,278.26 C454.43,275.11 454.13,272.11 453.83,269.89 C453.53,267.67 453.20,266.94 453.03,264.93 C452.86,262.92 452.90,261.57 452.83,257.80 C452.76,254.03 452.70,246.90 452.63,242.30 C452.56,237.70 452.51,232.49 452.43,230.21 C452.35,227.93 452.00,229.17 452.13,228.60 C452.26,228.03 453.05,227.10 453.23,226.80 Z" fill="url(#gD3)" stroke="#2b2b2b" stroke-width="1.2" stroke-linejoin="round"/>
<line x1="459.23" x2="459.23" y1="226.80" y2="350.80" stroke="#333" stroke-width="0.9"/>
<rect x="457.43" y="226.80" width="3.6" height="46.81" fill="#ffffff" fill-opacity="0.7" stroke="#3a3a3a" stroke-width="1.15"/>
<path d="M455.93,255.32 L459.23,252.02 L462.53,255.32 L459.23,258.62 Z" fill="#ffffff" stroke="#111" stroke-width="1.4" stroke-linejoin="round"/>
<defs><linearGradient id="gD4" gradientUnits="userSpaceOnUse" x1="0" x2="0" y1="282.15" y2="350.80"><stop offset="0.0000" stop-color="#dadada"/><stop offset="0.2165" stop-color="#4a4a4a"/></linearGradient></defs>
<path d="M484.77,226.80 L507.37,226.80 C507.55,227.10 508.72,228.03 508.47,228.60 C508.22,229.17 506.69,229.12 505.87,230.21 C505.05,231.31 503.87,233.88 503.57,235.17 C503.27,236.46 504.09,236.98 504.07,237.96 C504.05,238.94 503.79,239.77 503.47,241.06 C503.15,242.35 502.67,244.42 502.17,245.71 C501.67,247.00 500.67,247.98 500.47,248.81 C500.27,249.64 500.70,249.89 500.97,250.67 C501.24,251.44 502.02,252.32 502.07,253.46 C502.12,254.60 501.50,256.20 501.27,257.49 C501.04,258.78 500.72,259.97 500.67,261.21 C500.62,262.45 500.87,263.43 500.97,264.93 C501.07,266.43 501.34,268.60 501.27,270.20 C501.19,271.80 500.85,273.15 500.52,274.54 C500.19,275.94 499.55,277.23 499.27,278.57 C498.99,279.91 498.94,281.26 498.82,282.60 C498.69,283.94 498.64,285.24 498.52,286.63 C498.39,288.02 498.28,289.58 498.08,290.97 C497.87,292.37 497.50,293.66 497.31,295.00 C497.12,296.34 497.02,297.48 496.92,299.03 C496.83,300.58 496.80,301.87 496.73,304.30 C496.67,306.73 496.60,305.85 496.54,313.60 C496.48,321.35 496.38,344.60 496.35,350.80 L495.79,350.80 C495.76,344.60 495.66,321.35 495.60,313.60 C495.53,305.85 495.47,306.73 495.40,304.30 C495.34,301.87 495.31,300.58 495.21,299.03 C495.12,297.48 495.02,296.34 494.83,295.00 C494.64,293.66 494.26,292.37 494.06,290.97 C493.86,289.58 493.74,288.02 493.62,286.63 C493.49,285.24 493.44,283.94 493.32,282.60 C493.19,281.26 493.15,279.91 492.87,278.57 C492.59,277.23 491.95,275.94 491.62,274.54 C491.29,273.15 490.94,271.80 490.87,270.20 C490.79,268.60 491.07,266.43 491.17,264.93 C491.27,263.43 491.52,262.45 491.47,261.21 C491.42,259.97 491.10,258.78 490.87,257.49 C490.64,256.20 490.02,254.60 490.07,253.46 C490.12,252.32 490.90,251.44 491.17,250.67 C491.44,249.89 491.87,249.64 491.67,248.81 C491.47,247.98 490.47,247.00 489.97,245.71 C489.47,244.42 488.99,242.35 488.67,241.06 C488.35,239.77 488.09,238.94 488.07,237.96 C488.05,236.98 488.87,236.46 488.57,235.17 C488.27,233.88 487.09,231.31 486.27,230.21 C485.45,229.12 483.92,229.17 483.67,228.60 C483.42,228.03 484.59,227.10 484.77,226.80 Z" fill="url(#gD4)" stroke="#2b2b2b" stroke-width="1.2" stroke-linejoin="round"/>
<line x1="496.07" x2="496.07" y1="226.80" y2="350.80" stroke="#333" stroke-width="0.9"/>
<rect x="494.27" y="226.80" width="3.6" height="30.07" fill="#ffffff" fill-opacity="0.7" stroke="#3a3a3a" stroke-width="1.15"/>
<line x1="494.27" x2="497.87" y1="241.37" y2="241.37" stroke="#111" stroke-width="1.6"/>
<path d="M492.77,249.43 L496.07,246.13 L499.37,249.43 L496.07,252.73 Z" fill="#ffffff" stroke="#111" stroke-width="1.4" stroke-linejoin="round"/>
<defs><linearGradient id="gD5" gradientUnits="userSpaceOnUse" x1="0" x2="0" y1="277.56" y2="350.80"><stop offset="0.0000" stop-color="#a6a6a6"/><stop offset="0.2656" stop-color="#4a4a4a"/></linearGradient></defs>
<path d="M514.71,226.80 L537.71,226.80 C537.89,227.10 539.06,228.03 538.81,228.60 C538.56,229.17 537.16,229.12 536.21,230.21 C535.26,231.31 533.77,233.46 533.11,235.17 C532.44,236.88 532.36,238.68 532.21,240.44 C532.06,242.20 532.09,244.01 532.21,245.71 C532.32,247.42 532.66,249.17 532.91,250.67 C533.16,252.17 533.66,253.36 533.71,254.70 C533.76,256.04 533.56,257.49 533.21,258.73 C532.86,259.97 532.01,260.90 531.61,262.14 C531.21,263.38 531.06,264.83 530.81,266.17 C530.56,267.51 530.36,268.81 530.11,270.20 C529.86,271.59 529.51,273.15 529.31,274.54 C529.11,275.94 528.97,277.23 528.91,278.57 C528.84,279.91 528.96,281.26 528.91,282.60 C528.86,283.94 528.72,285.24 528.61,286.63 C528.49,288.02 528.41,289.58 528.22,290.97 C528.02,292.37 527.64,293.66 527.45,295.00 C527.26,296.34 527.16,297.48 527.06,299.03 C526.97,300.58 526.97,295.67 526.87,304.30 C526.78,312.93 526.55,343.05 526.49,350.80 L525.93,350.80 C525.86,343.05 525.64,312.93 525.54,304.30 C525.45,295.67 525.45,300.58 525.35,299.03 C525.26,297.48 525.16,296.34 524.97,295.00 C524.78,293.66 524.39,292.37 524.20,290.97 C524.01,289.58 523.92,288.02 523.81,286.63 C523.69,285.24 523.56,283.94 523.51,282.60 C523.46,281.26 523.57,279.91 523.51,278.57 C523.44,277.23 523.31,275.94 523.11,274.54 C522.91,273.15 522.56,271.59 522.31,270.20 C522.06,268.81 521.86,267.51 521.61,266.17 C521.36,264.83 521.21,263.38 520.81,262.14 C520.41,260.90 519.56,259.97 519.21,258.73 C518.86,257.49 518.66,256.04 518.71,254.70 C518.76,253.36 519.26,252.17 519.51,250.67 C519.76,249.17 520.09,247.42 520.21,245.71 C520.32,244.01 520.36,242.20 520.21,240.44 C520.06,238.68 519.97,236.88 519.31,235.17 C518.64,233.46 517.16,231.31 516.21,230.21 C515.26,229.12 513.86,229.17 513.61,228.60 C513.36,228.03 514.52,227.10 514.71,226.80 Z" fill="url(#gD5)" stroke="#2b2b2b" stroke-width="1.2" stroke-linejoin="round"/>
<line x1="526.21" x2="526.21" y1="226.80" y2="350.80" stroke="#333" stroke-width="0.9"/>
<rect x="524.41" y="226.80" width="3.6" height="29.14" fill="#ffffff" fill-opacity="0.7" stroke="#3a3a3a" stroke-width="1.15"/>
<line x1="524.41" x2="528.01" y1="241.37" y2="241.37" stroke="#111" stroke-width="1.6"/>
<path d="M522.91,250.05 L526.21,246.75 L529.51,250.05 L526.21,253.35 Z" fill="#ffffff" stroke="#111" stroke-width="1.4" stroke-linejoin="round"/>
<defs><linearGradient id="gD6" gradientUnits="userSpaceOnUse" x1="0" x2="0" y1="290.35" y2="350.80"><stop offset="0.0000" stop-color="#dadada"/><stop offset="0.0769" stop-color="#4a4a4a"/><stop offset="0.2000" stop-color="#4a4a4a"/><stop offset="0.2308" stop-color="#c4c4c4"/><stop offset="0.2513" stop-color="#c4c4c4"/><stop offset="0.2821" stop-color="#4a4a4a"/></linearGradient></defs>
<path d="M550.04,226.80 L576.04,226.80 C576.23,227.10 577.51,228.03 577.14,228.60 C576.78,229.17 574.91,229.48 573.84,230.21 C572.78,230.94 571.43,232.17 570.74,233.00 C570.06,233.83 569.98,234.34 569.74,235.17 C569.51,236.00 569.56,236.82 569.34,237.96 C569.13,239.10 568.81,240.70 568.44,241.99 C568.08,243.28 567.51,244.52 567.14,245.71 C566.78,246.90 566.16,247.98 566.24,249.12 C566.33,250.26 567.14,251.39 567.64,252.53 C568.14,253.67 568.91,254.91 569.24,255.94 C569.58,256.97 569.78,258.06 569.64,258.73 C569.51,259.40 568.84,259.09 568.44,259.97 C568.04,260.85 567.53,262.71 567.24,264.00 C566.96,265.29 566.79,266.33 566.74,267.72 C566.69,269.12 567.09,270.82 566.94,272.37 C566.79,273.92 566.03,275.21 565.84,277.02 C565.66,278.83 566.03,281.15 565.84,283.22 C565.66,285.29 565.06,287.51 564.75,289.42 C564.43,291.33 564.09,292.88 563.94,294.69 C563.79,296.50 563.77,298.56 563.84,300.27 C563.92,301.97 564.45,303.37 564.38,304.92 C564.31,306.47 563.62,307.09 563.44,309.57 C563.26,312.05 563.34,312.93 563.32,319.80 C563.31,326.67 563.32,345.63 563.32,350.80 L562.76,350.80 C562.76,345.63 562.78,326.67 562.76,319.80 C562.75,312.93 562.83,312.05 562.65,309.57 C562.47,307.09 561.78,306.47 561.71,304.92 C561.64,303.37 562.17,301.97 562.25,300.27 C562.32,298.56 562.30,296.50 562.15,294.69 C562.00,292.88 561.66,291.33 561.34,289.42 C561.03,287.51 560.43,285.29 560.24,283.22 C560.06,281.15 560.43,278.83 560.24,277.02 C560.06,275.21 559.29,273.92 559.14,272.37 C558.99,270.82 559.39,269.12 559.34,267.72 C559.29,266.33 559.13,265.29 558.84,264.00 C558.56,262.71 558.04,260.85 557.64,259.97 C557.24,259.09 556.58,259.40 556.44,258.73 C556.31,258.06 556.51,256.97 556.84,255.94 C557.18,254.91 557.94,253.67 558.44,252.53 C558.94,251.39 559.76,250.26 559.84,249.12 C559.93,247.98 559.31,246.90 558.94,245.71 C558.58,244.52 558.01,243.28 557.64,241.99 C557.28,240.70 556.96,239.10 556.74,237.96 C556.53,236.82 556.58,236.00 556.34,235.17 C556.11,234.34 556.03,233.83 555.34,233.00 C554.66,232.17 553.31,230.94 552.24,230.21 C551.18,229.48 549.31,229.17 548.94,228.60 C548.58,228.03 549.86,227.10 550.04,226.80 Z" fill="url(#gD6)" stroke="#2b2b2b" stroke-width="1.2" stroke-linejoin="round"/>
<line x1="563.04" x2="563.04" y1="226.80" y2="350.80" stroke="#333" stroke-width="0.9"/>
<rect x="561.24" y="226.80" width="3.6" height="31.00" fill="#ffffff" fill-opacity="0.7" stroke="#3a3a3a" stroke-width="1.15"/>
<line x1="561.24" x2="564.84" y1="241.37" y2="241.37" stroke="#111" stroke-width="1.6"/>
<path d="M559.74,250.05 L563.04,246.75 L566.34,250.05 L563.04,253.35 Z" fill="#ffffff" stroke="#111" stroke-width="1.4" stroke-linejoin="round"/>
<defs><linearGradient id="gD7" gradientUnits="userSpaceOnUse" x1="0" x2="0" y1="275.86" y2="350.80"><stop offset="0.0000" stop-color="#a6a6a6"/><stop offset="0.2426" stop-color="#4a4a4a"/></linearGradient></defs>
<path d="M584.18,226.80 L602.18,226.80 C602.37,227.10 603.28,228.03 603.28,228.60 C603.28,229.17 602.55,229.12 602.18,230.21 C601.82,231.31 601.35,233.46 601.08,235.17 C600.82,236.88 600.75,238.68 600.58,240.44 C600.42,242.20 600.22,244.01 600.08,245.71 C599.95,247.42 599.87,248.96 599.78,250.67 C599.70,252.38 599.82,254.39 599.58,255.94 C599.35,257.49 598.82,258.01 598.38,259.97 C597.95,261.93 597.33,265.65 596.98,267.72 C596.63,269.79 596.47,270.82 596.28,272.37 C596.10,273.92 596.07,275.21 595.88,277.02 C595.70,278.83 595.37,281.15 595.19,283.22 C595.01,285.29 594.97,287.41 594.79,289.42 C594.60,291.44 594.24,293.35 594.08,295.31 C593.91,297.27 593.88,298.67 593.79,301.20 C593.70,303.73 593.61,302.23 593.56,310.50 C593.51,318.77 593.48,344.08 593.46,350.80 L592.90,350.80 C592.89,344.08 592.86,318.77 592.81,310.50 C592.75,302.23 592.66,303.73 592.58,301.20 C592.49,298.67 592.46,297.27 592.29,295.31 C592.12,293.35 591.76,291.44 591.58,289.42 C591.39,287.41 591.36,285.29 591.18,283.22 C590.99,281.15 590.67,278.83 590.48,277.02 C590.30,275.21 590.27,273.92 590.08,272.37 C589.90,270.82 589.73,269.79 589.38,267.72 C589.03,265.65 588.42,261.93 587.98,259.97 C587.55,258.01 587.02,257.49 586.78,255.94 C586.55,254.39 586.67,252.38 586.58,250.67 C586.50,248.96 586.42,247.42 586.28,245.71 C586.15,244.01 585.95,242.20 585.78,240.44 C585.62,238.68 585.55,236.88 585.28,235.17 C585.02,233.46 584.55,231.31 584.18,230.21 C583.82,229.12 583.08,229.17 583.08,228.60 C583.08,228.03 584.00,227.10 584.18,226.80 Z" fill="url(#gD7)" stroke="#2b2b2b" stroke-width="1.2" stroke-linejoin="round"/>
<line x1="593.18" x2="593.18" y1="226.80" y2="350.80" stroke="#333" stroke-width="0.9"/>
<rect x="591.38" y="226.80" width="3.6" height="45.57" fill="#ffffff" fill-opacity="0.7" stroke="#3a3a3a" stroke-width="1.15"/>
<line x1="591.38" x2="594.98" y1="241.37" y2="241.37" stroke="#111" stroke-width="1.6"/>
<path d="M589.88,252.53 L593.18,249.23 L596.48,252.53 L593.18,255.83 Z" fill="#ffffff" stroke="#111" stroke-width="1.4" stroke-linejoin="round"/>
<text transform="translate(11.6,96.6) rotate(-90)" text-anchor="middle" font-size="9.6" fill="#222">Scale of importance (1-5)</text>
<text transform="translate(13.0,289.7) rotate(-90)" text-anchor="middle" font-size="9.6" fill="#222">Scale of importance (1-5)</text>
<text x="634.0" y="163.3" font-size="12.6" fill="#111">Year</text>
<rect x="633.9" y="171.8" width="20.0" height="20.6" fill="#4a4a4a"/>
<rect x="635.9" y="173.50" width="7.00" height="2.4" fill="#f4f4f4"/>
<rect x="644.90" y="173.50" width="7.00" height="2.4" fill="#f4f4f4"/>
<rect x="635.9" y="188.30" width="7.00" height="2.4" fill="#f4f4f4"/>
<rect x="644.90" y="188.30" width="7.00" height="2.4" fill="#f4f4f4"/>
<rect x="635.9" y="177.40" width="16.0" height="9.40" fill="#eeeeee"/>
<path d="M635.9,177.60 L643.9,182.10 L651.9,177.60 M635.9,186.60 L643.9,182.10 L651.9,186.60" fill="none" stroke="#555" stroke-width="1.3"/>
<line x1="643.9" x2="643.9" y1="171.8" y2="192.4" stroke="#2b2b2b" stroke-width="1.2"/>
<path d="M639.60,182.10 L643.90,178.30 L648.20,182.10 L643.90,185.90 Z" fill="#f4f4f4" stroke="#111" stroke-width="1.5" stroke-linejoin="round"/>
<rect x="633.9" y="171.8" width="20.0" height="20.6" fill="none" stroke="#333" stroke-width="1.4"/>
<text x="661.2" y="186.70000000000002" font-size="10.3" fill="#111">2020</text>
<rect x="633.9" y="192.4" width="20.0" height="20.6" fill="#4a4a4a"/>
<rect x="635.9" y="194.10" width="7.00" height="2.4" fill="#c9c9c9"/>
<rect x="644.90" y="194.10" width="7.00" height="2.4" fill="#c9c9c9"/>
<rect x="635.9" y="208.90" width="7.00" height="2.4" fill="#c9c9c9"/>
<rect x="644.90" y="208.90" width="7.00" height="2.4" fill="#c9c9c9"/>
<rect x="635.9" y="198.00" width="16.0" height="9.40" fill="#b4b4b4"/>
<path d="M635.9,198.20 L643.9,202.70 L651.9,198.20 M635.9,207.20 L643.9,202.70 L651.9,207.20" fill="none" stroke="#555" stroke-width="1.3"/>
<line x1="643.9" x2="643.9" y1="192.4" y2="213.0" stroke="#2b2b2b" stroke-width="1.2"/>
<path d="M639.60,202.70 L643.90,198.90 L648.20,202.70 L643.90,206.50 Z" fill="#c9c9c9" stroke="#111" stroke-width="1.5" stroke-linejoin="round"/>
<rect x="633.9" y="192.4" width="20.0" height="20.6" fill="none" stroke="#333" stroke-width="1.4"/>
<text x="661.2" y="207.3" font-size="10.3" fill="#111">2023</text>
<polygon points="378.50,219.40 379.26,220.95 380.97,221.20 379.74,222.40 380.03,224.10 378.50,223.30 376.97,224.10 377.26,222.40 376.03,221.20 377.74,220.95" fill="#000"/>
<polygon points="580.80,219.00 581.56,220.55 583.27,220.80 582.04,222.00 582.33,223.70 580.80,222.90 579.27,223.70 579.56,222.00 578.33,220.80 580.04,220.55" fill="#000"/>
</svg>
</body></html>
